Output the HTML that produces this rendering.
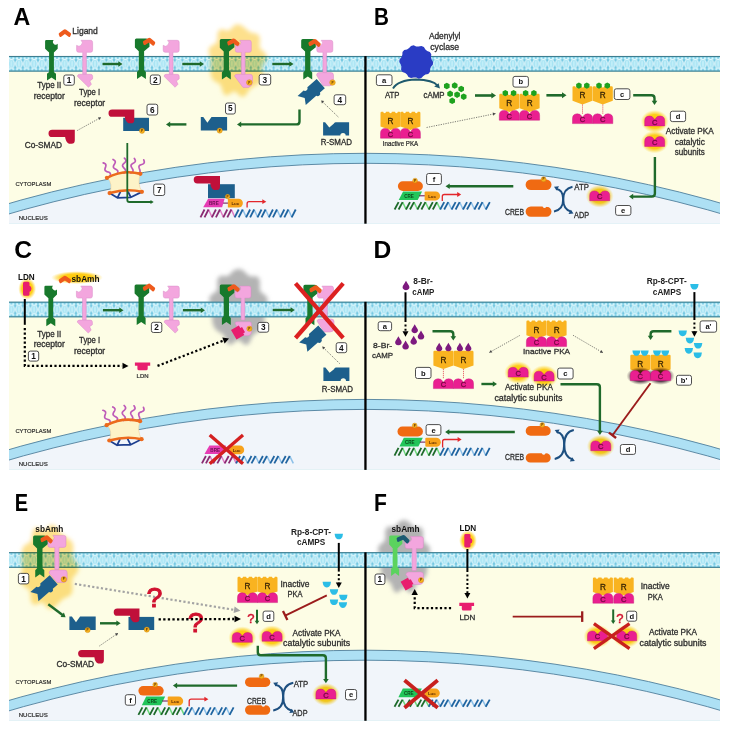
<!DOCTYPE html><html><head><meta charset="utf-8"><style>html,body{margin:0;padding:0;background:#fff;}svg{display:block;will-change:transform;}</style></head><body>
<svg width="730" height="730" viewBox="0 0 730 730" font-family='"Liberation Sans", sans-serif'>
<defs>
<g id="memtile"><rect width="7.6" height="15.4" fill="#74c8e2"/><circle cx="1.9" cy="2.4" r="1.3" fill="#d6f7fd"/><circle cx="5.7" cy="2.4" r="1.3" fill="#d6f7fd"/><circle cx="1.9" cy="13.0" r="1.3" fill="#d6f7fd"/><circle cx="5.7" cy="13.0" r="1.3" fill="#d6f7fd"/><ellipse cx="3.8" cy="7.7" rx="3.1" ry="4.3" fill="#a6e3f3" stroke="#effcff" stroke-width="0.95"/><line x1="3.8" y1="5.0" x2="3.8" y2="10.4" stroke="#e6fbff" stroke-width="0.8"/></g>
<radialGradient id="gy"><stop offset="0" stop-color="#ffc800" stop-opacity="1"/><stop offset="0.6" stop-color="#ffcc10" stop-opacity="0.95"/><stop offset="0.8" stop-color="#ffd84a" stop-opacity="0.6"/><stop offset="1" stop-color="#ffe680" stop-opacity="0"/></radialGradient>
<radialGradient id="gA"><stop offset="0" stop-color="#fcd66c" stop-opacity="0.9"/><stop offset="0.72" stop-color="#fcd870" stop-opacity="0.85"/><stop offset="0.88" stop-color="#fde39a" stop-opacity="0.5"/><stop offset="1" stop-color="#fdeab0" stop-opacity="0"/></radialGradient>
<radialGradient id="gg"><stop offset="0" stop-color="#9c9c9c" stop-opacity="0.95"/><stop offset="0.7" stop-color="#a8a8a8" stop-opacity="0.8"/><stop offset="1" stop-color="#c8c8c8" stop-opacity="0"/></radialGradient>
<radialGradient id="gd"><stop offset="0" stop-color="#2a1026" stop-opacity="1"/><stop offset="0.6" stop-color="#3a1a36" stop-opacity="0.85"/><stop offset="1" stop-color="#6a5a66" stop-opacity="0"/></radialGradient>
<filter id="blur2_2" x="-30%" y="-30%" width="160%" height="160%"><feGaussianBlur stdDeviation="2.2"/></filter>
<filter id="blur2_4" x="-30%" y="-30%" width="160%" height="160%"><feGaussianBlur stdDeviation="2.4"/></filter>
<filter id="blur1_5" x="-30%" y="-30%" width="160%" height="160%"><feGaussianBlur stdDeviation="1.5"/></filter>
</defs>
<rect width="730" height="730" fill="#fff"/>
<clipPath id="rc1"><rect x="9.0" y="56.1" width="711.0" height="167.3"/></clipPath>
<rect x="9.0" y="56.1" width="711.0" height="167.3" fill="#fdfde5"/>
<g clip-path="url(#rc1)">
<circle cx="365.4" cy="1445.3" r="1292.0" fill="#ade0f4" stroke="#4f7f9c" stroke-width="0.9"/>
<circle cx="365.4" cy="1445.3" r="1282.0" fill="#f1f5fa" stroke="#4f7f9c" stroke-width="0.9"/>
</g>
<pattern id="mem1" patternUnits="userSpaceOnUse" x="0" y="56.1" width="7.6" height="15.4"><use href="#memtile"/></pattern>
<rect x="9.0" y="56.1" width="711.0" height="15.4" fill="url(#mem1)"/>
<line x1="9.0" y1="56.45" x2="720.0" y2="56.45" stroke="#2e6a7c" stroke-width="0.85"/>
<line x1="9.0" y1="71.15" x2="720.0" y2="71.15" stroke="#2e6a7c" stroke-width="0.85"/>
<clipPath id="rc2"><rect x="9.0" y="301.8" width="711.0" height="167.8"/></clipPath>
<rect x="9.0" y="301.8" width="711.0" height="167.8" fill="#fdfde5"/>
<g clip-path="url(#rc2)">
<circle cx="365.4" cy="1691.4" r="1292.0" fill="#ade0f4" stroke="#4f7f9c" stroke-width="0.9"/>
<circle cx="365.4" cy="1691.4" r="1282.0" fill="#f1f5fa" stroke="#4f7f9c" stroke-width="0.9"/>
</g>
<path d="M265.3,307.0 L264.1,310.0 L263.9,313.0 L264.3,316.2 L264.6,319.6 L264.2,323.0 L263.2,326.0 L261.7,328.7 L259.8,330.8 L257.5,332.3 L255.2,333.5 L253.2,335.0 L251.7,337.6 L250.3,341.0 L248.6,344.0 L246.1,345.1 L243.3,343.8 L240.7,341.3 L238.4,339.9 L236.2,340.8 L233.6,343.1 L230.8,344.8 L228.2,344.3 L226.3,341.5 L225.0,337.9 L223.6,335.0 L221.8,333.3 L219.4,332.2 L217.1,330.7 L215.1,328.7 L213.6,326.0 L212.6,323.0 L212.2,319.7 L212.3,316.3 L212.7,313.0 L212.7,310.0 L211.8,307.0 L210.2,303.7 L209.2,300.2 L209.7,296.8 L212.0,294.2 L214.9,292.4 L216.9,290.5 L217.5,287.5 L217.2,283.4 L217.5,279.3 L219.2,276.6 L221.9,275.8 L225.0,276.1 L227.5,276.0 L229.6,274.7 L231.5,272.6 L233.6,270.6 L235.9,269.4 L238.4,269.0 L240.9,269.3 L243.2,270.5 L245.4,272.4 L247.3,274.5 L249.3,276.0 L251.7,276.4 L254.6,276.3 L257.5,276.8 L259.4,279.1 L259.9,283.0 L259.7,287.2 L259.9,290.5 L261.6,292.7 L264.4,294.5 L266.9,296.9 L267.8,300.1 L267.0,303.7 Z" fill="#b3b3b3" opacity="1.0" filter="url(#blur2_2)"/>
<pattern id="mem2" patternUnits="userSpaceOnUse" x="0" y="301.8" width="7.6" height="15.4"><use href="#memtile"/></pattern>
<rect x="9.0" y="301.8" width="711.0" height="15.4" fill="url(#mem2)"/>
<line x1="9.0" y1="302.15" x2="720.0" y2="302.15" stroke="#2e6a7c" stroke-width="0.85"/>
<line x1="9.0" y1="316.85" x2="720.0" y2="316.85" stroke="#2e6a7c" stroke-width="0.85"/>
<clipPath id="rc3"><rect x="9.0" y="552.3" width="711.0" height="168.20000000000005"/></clipPath>
<rect x="9.0" y="552.3" width="711.0" height="168.20000000000005" fill="#fdfde5"/>
<g clip-path="url(#rc3)">
<circle cx="365.4" cy="1942.2" r="1292.0" fill="#ade0f4" stroke="#4f7f9c" stroke-width="0.9"/>
<circle cx="365.4" cy="1942.2" r="1282.0" fill="#f1f5fa" stroke="#4f7f9c" stroke-width="0.9"/>
</g>
<path d="M428.0,556.5 L426.9,559.4 L426.7,562.2 L427.0,565.3 L427.3,568.6 L427.0,571.8 L426.1,574.7 L424.8,577.3 L423.1,579.4 L421.0,580.8 L418.9,581.9 L417.2,583.4 L415.8,585.8 L414.6,589.1 L413.0,592.0 L410.9,593.1 L408.4,591.8 L406.0,589.5 L404.0,588.1 L402.0,588.9 L399.7,591.1 L397.2,592.8 L394.9,592.3 L393.2,589.6 L392.0,586.2 L390.8,583.4 L389.2,581.7 L387.1,580.6 L385.0,579.3 L383.2,577.3 L381.9,574.7 L381.0,571.8 L380.6,568.7 L380.7,565.4 L381.1,562.3 L381.1,559.4 L380.3,556.5 L378.9,553.4 L378.0,549.9 L378.4,546.7 L380.4,544.2 L383.0,542.5 L384.8,540.7 L385.4,537.9 L385.2,533.9 L385.4,530.0 L386.9,527.3 L389.3,526.6 L392.0,526.8 L394.3,526.8 L396.1,525.6 L397.8,523.6 L399.7,521.6 L401.8,520.4 L404.0,520.0 L406.2,520.4 L408.3,521.5 L410.2,523.3 L411.9,525.3 L413.7,526.8 L415.8,527.2 L418.4,527.1 L421.0,527.6 L422.7,529.7 L423.2,533.5 L423.0,537.5 L423.2,540.7 L424.6,542.8 L427.1,544.5 L429.4,546.8 L430.2,549.9 L429.5,553.3 Z" fill="#b3b3b3" opacity="1.0" filter="url(#blur2_2)"/>
<pattern id="mem3" patternUnits="userSpaceOnUse" x="0" y="552.3" width="7.6" height="15.4"><use href="#memtile"/></pattern>
<rect x="9.0" y="552.3" width="711.0" height="15.4" fill="url(#mem3)"/>
<line x1="9.0" y1="552.65" x2="720.0" y2="552.65" stroke="#2e6a7c" stroke-width="0.85"/>
<line x1="9.0" y1="567.35" x2="720.0" y2="567.35" stroke="#2e6a7c" stroke-width="0.85"/>
<text x="13.6" y="24.8" font-size="24" text-anchor="start" font-weight="bold" fill="#000" textLength="16.79" lengthAdjust="spacingAndGlyphs">A</text>
<g transform="translate(45.1,40.1)">
<path d="M1.2,0 H8.6 A2.5,2.5 0 0 0 12.6,3.6 V8.6 L8.8,12.4 V32 L10.9,33.6 V40.5 L6.4,37.4 L1.9,40.5 V33.6 L4.0,32 V12.4 L0,8.6 V1.2 Q0,0 1.2,0 Z" fill="#18792c"/>
</g>
<g transform="translate(58.4,29.2)">
<path d="M0.4,5.2 Q0,4.4 0.8,3.7 L5.2,0.6 Q6.5,-0.3 7.8,0.6 L12.2,3.7 Q13,4.4 12.6,5.4 L11.8,7.2 Q11.2,8.1 10.2,7.5 L6.5,4.9 L2.8,7.5 Q1.8,8.1 1.2,7.2 Z" fill="#ee5a1c"/>
</g>
<text x="72.3" y="34.3" font-size="9" text-anchor="start" fill="#2e2e2e" textLength="25.5" lengthAdjust="spacingAndGlyphs" stroke="#2e2e2e" stroke-width="0.32">Ligand</text>
<g transform="translate(76.6,40.3)">
<path d="M4.4,0 H14 Q16,0 16,2 V10 Q16,12 14,12 H9.8 V34 H6.1 V12 H2 Q0,12 0,10 V5 A3.3,3.3 0 0 0 4.4,0 Z" fill="#f3a6de" stroke="#d98ac6" stroke-width="0.5"/>
<path d="M0.8,36 Q1,34 3,34 H14 Q16,34 16,36 V38.6 L13.2,40.6 L14.8,43.9 L11.9,47 Z" fill="#f3a6de" stroke="#d98ac6" stroke-width="0.5"/>
</g>
<rect x="63.8" y="75.0" width="10.5" height="10.2" rx="2" fill="#fff" stroke="#3a3a3a" stroke-width="0.9"/>
<text x="69.0" y="83.0" font-size="8.3" text-anchor="middle" font-weight="bold" fill="#111">1</text>
<text x="49.3" y="88.4" font-size="8.5" text-anchor="middle" fill="#2e2e2e" textLength="24" lengthAdjust="spacingAndGlyphs" stroke="#2e2e2e" stroke-width="0.30">Type II</text>
<text x="49.3" y="99.0" font-size="8.5" text-anchor="middle" fill="#2e2e2e" textLength="31.2" lengthAdjust="spacingAndGlyphs" stroke="#2e2e2e" stroke-width="0.30">receptor</text>
<text x="89.6" y="95.3" font-size="8.5" text-anchor="middle" fill="#2e2e2e" textLength="21" lengthAdjust="spacingAndGlyphs" stroke="#2e2e2e" stroke-width="0.30">Type I</text>
<text x="89.6" y="106.0" font-size="8.5" text-anchor="middle" fill="#2e2e2e" textLength="31.2" lengthAdjust="spacingAndGlyphs" stroke="#2e2e2e" stroke-width="0.30">receptor</text>
<path d="M102.5,64.0 L119.1,64.0" fill="none" stroke="#1f6a2b" stroke-width="2.4" stroke-linejoin="round"/>
<path d="M122.5,64.0 L118.3,66.8 L118.3,61.2 Z" fill="#1f6a2b"/>
<g transform="translate(134.9,38.6)">
<path d="M1.5,0 H11 Q14.6,0.3 14.6,4 V8.2 L9.2,12.6 V31.5 L11,33.4 V40.5 L6.6,37.4 L2.1,40.5 V33.4 L3.9,31.5 V12.6 L0,8.8 V1.5 Q0,0 1.5,0 Z" fill="#18792c"/>
</g>
<g transform="translate(142.9,37.2) rotate(4)">
<path d="M0.4,5.2 Q0,4.4 0.8,3.7 L5.2,0.6 Q6.5,-0.3 7.8,0.6 L12.2,3.7 Q13,4.4 12.6,5.4 L11.8,7.2 Q11.2,8.1 10.2,7.5 L6.5,4.9 L2.8,7.5 Q1.8,8.1 1.2,7.2 Z" fill="#ee5a1c"/>
</g>
<g transform="translate(163.2,40.3)">
<path d="M4.4,0 H14 Q16,0 16,2 V10 Q16,12 14,12 H9.8 V34 H6.1 V12 H2 Q0,12 0,10 V5 A3.3,3.3 0 0 0 4.4,0 Z" fill="#f3a6de" stroke="#d98ac6" stroke-width="0.5"/>
<path d="M0.8,36 Q1,34 3,34 H14 Q16,34 16,36 V38.6 L13.2,40.6 L14.8,43.9 L11.9,47 Z" fill="#f3a6de" stroke="#d98ac6" stroke-width="0.5"/>
</g>
<rect x="150.3" y="75.0" width="10.0" height="9.5" rx="2" fill="#fff" stroke="#3a3a3a" stroke-width="0.9"/>
<text x="155.3" y="82.7" font-size="8.3" text-anchor="middle" font-weight="bold" fill="#111">2</text>
<path d="M182.3,64.0 L200.6,64.0" fill="none" stroke="#1f6a2b" stroke-width="2.4" stroke-linejoin="round"/>
<path d="M204.0,64.0 L199.8,66.8 L199.8,61.2 Z" fill="#1f6a2b"/>
<path d="M265.7,60.5 L263.6,63.4 L262.1,66.0 L261.8,68.8 L262.3,72.1 L262.6,75.5 L262.0,78.6 L260.5,81.2 L258.6,83.2 L256.4,84.9 L254.2,86.2 L252.0,87.4 L250.1,88.9 L248.4,91.1 L246.7,93.9 L244.6,96.3 L242.1,96.9 L239.4,95.5 L237.0,93.1 L234.8,91.6 L232.6,92.1 L229.8,94.1 L226.9,95.4 L224.3,94.7 L222.7,91.7 L221.7,87.9 L220.6,85.0 L218.8,83.3 L216.4,82.2 L213.9,80.8 L212.0,78.6 L211.0,75.7 L210.5,72.6 L210.5,69.4 L210.6,66.3 L210.9,63.4 L210.9,60.5 L210.2,57.6 L209.1,54.3 L208.5,50.9 L209.3,47.8 L211.6,45.7 L214.5,44.2 L216.6,42.6 L217.4,39.9 L217.4,35.9 L217.9,32.0 L219.8,29.6 L222.7,29.3 L225.7,30.2 L228.3,30.5 L230.4,29.4 L232.3,27.2 L234.5,25.2 L237.0,24.3 L239.5,24.6 L241.9,25.7 L244.1,27.2 L246.2,28.9 L248.1,30.7 L250.1,32.1 L252.4,32.9 L255.2,33.3 L257.9,34.3 L259.6,36.7 L259.9,40.3 L259.5,44.2 L259.5,47.3 L261.1,49.5 L263.8,51.5 L266.2,54.0 L266.9,57.2 Z" fill="#fde08c" opacity="1.0" filter="url(#blur2_2)" style="mix-blend-mode:multiply"/>
<g transform="translate(219.8,39.0)">
<path d="M1.5,0 H11 Q14.6,0.3 14.6,4 V8.2 L9.2,12.6 V31.5 L11,33.4 V40.5 L6.6,37.4 L2.1,40.5 V33.4 L3.9,31.5 V12.6 L0,8.8 V1.5 Q0,0 1.5,0 Z" fill="#18792c"/>
</g>
<g transform="translate(227.4,37.6) rotate(6)">
<path d="M0.4,5.2 Q0,4.4 0.8,3.7 L5.2,0.6 Q6.5,-0.3 7.8,0.6 L12.2,3.7 Q13,4.4 12.6,5.4 L11.8,7.2 Q11.2,8.1 10.2,7.5 L6.5,4.9 L2.8,7.5 Q1.8,8.1 1.2,7.2 Z" fill="#ee5a1c"/>
</g>
<g transform="translate(235.3,40.3)">
<path d="M4.4,0 H14 Q16,0 16,2 V10 Q16,12 14,12 H9.8 V34 H6.1 V12 H2 Q0,12 0,10 V5 A3.3,3.3 0 0 0 4.4,0 Z" fill="#f3a6de" stroke="#d98ac6" stroke-width="0.5"/>
</g>
<path d="M234.5,76 Q235,74.3 237,74.3 H250 Q252.5,74.3 252.5,76.5 V82 Q252.5,86 248.5,87.4 L243,87.4 Z" fill="#f3a6de" stroke="#d98ac6" stroke-width="0.5"/>
<circle cx="249.3" cy="82.5" r="2.8" fill="#f5b01e" stroke="#c98310" stroke-width="0.4"/>
<text x="249.3" y="83.6" font-size="3.2" text-anchor="middle" font-weight="bold" fill="#5a3000">P</text>
<rect x="259.2" y="74.3" width="11.5" height="10.7" rx="2" fill="#fff" stroke="#3a3a3a" stroke-width="0.9"/>
<text x="264.9" y="82.6" font-size="8.3" text-anchor="middle" font-weight="bold" fill="#111">3</text>
<path d="M272.3,64.0 L290.1,64.0" fill="none" stroke="#1f6a2b" stroke-width="2.4" stroke-linejoin="round"/>
<path d="M293.5,64.0 L289.3,66.8 L289.3,61.2 Z" fill="#1f6a2b"/>
<g transform="translate(301.2,39.0)">
<path d="M1.5,0 H11 Q14.6,0.3 14.6,4 V8.2 L9.2,12.6 V31.5 L11,33.4 V40.5 L6.6,37.4 L2.1,40.5 V33.4 L3.9,31.5 V12.6 L0,8.8 V1.5 Q0,0 1.5,0 Z" fill="#18792c"/>
</g>
<g transform="translate(316.8,40.3)">
<path d="M4.4,0 H14 Q16,0 16,2 V10 Q16,12 14,12 H9.8 V34 H6.1 V12 H2 Q0,12 0,10 V5 A3.3,3.3 0 0 0 4.4,0 Z" fill="#f3a6de" stroke="#d98ac6" stroke-width="0.5"/>
</g>
<path d="M316.5,75 Q317,72.6 319,72.6 H331 Q333.5,72.6 333.5,75 V82 Q333.5,85.8 329.5,85.8 H323 Z" fill="#f3a6de" stroke="#d98ac6" stroke-width="0.5"/>
<g transform="translate(308.6,38.2) rotate(6)">
<path d="M0.4,5.2 Q0,4.4 0.8,3.7 L5.2,0.6 Q6.5,-0.3 7.8,0.6 L12.2,3.7 Q13,4.4 12.6,5.4 L11.8,7.2 Q11.2,8.1 10.2,7.5 L6.5,4.9 L2.8,7.5 Q1.8,8.1 1.2,7.2 Z" fill="#ee5a1c"/>
</g>
<g transform="translate(297.6,95.9) rotate(-41.5)">
<path d="M0,0 H8 A2.6,2.6 0 0 0 13,0 H25.5 V12.3 H19 A2.6,2.6 0 0 1 14,12.3 H0 L4,6.2 Z" fill="#1d5f8c"/>
</g>
<circle cx="332.5" cy="82.5" r="2.8" fill="#f5b01e" stroke="#c98310" stroke-width="0.4"/>
<text x="332.5" y="83.6" font-size="3.2" text-anchor="middle" font-weight="bold" fill="#5a3000">P</text>
<rect x="334.1" y="94.8" width="11.6" height="9.9" rx="2" fill="#fff" stroke="#3a3a3a" stroke-width="0.9"/>
<text x="339.9" y="102.7" font-size="8.3" text-anchor="middle" font-weight="bold" fill="#111">4</text>
<path d="M338.3,117.0 L321.2,100.5" fill="none" stroke="#444" stroke-width="0.7" stroke-dasharray="1.2 1.2"/>
<path d="M321.2,100.5 L324.2,101.1 L321.9,103.4 Z" fill="#444"/>
<g transform="translate(323.1,122.2)">
<path d="M0,0 H2 L6.2,5.2 L10.6,1.6 Q11.2,0 12.5,0 H26 V13.4 H22.6 A2.7,2.7 0 0 0 17.2,13.4 H0 Z" fill="#1d5f8c"/>
</g>
<text x="336.3" y="144.6" font-size="8.5" text-anchor="middle" fill="#2e2e2e" textLength="31.2" lengthAdjust="spacingAndGlyphs" stroke="#2e2e2e" stroke-width="0.30">R-SMAD</text>
<path d="M299.5,109.6 L299.5,121.4 Q299.5,124.4 296.5,124.4 L240.4,124.4" fill="none" stroke="#1f6a2b" stroke-width="2.4" stroke-linejoin="round"/>
<path d="M237.0,124.4 L241.2,121.6 L241.2,127.2 Z" fill="#1f6a2b"/>
<g transform="translate(200.8,117.0)">
<path d="M0,0 H2.5 L6.6,5.8 L10.7,0 H26.3 V13.5 H0 Z" fill="#1d5f8c"/>
</g>
<circle cx="219.7" cy="130.6" r="2.6" fill="#f5b01e" stroke="#c98310" stroke-width="0.4"/>
<text x="219.7" y="131.7" font-size="3.2" text-anchor="middle" font-weight="bold" fill="#5a3000">P</text>
<rect x="225.5" y="103.0" width="9.8" height="11.0" rx="2" fill="#fff" stroke="#3a3a3a" stroke-width="0.9"/>
<text x="230.4" y="111.4" font-size="8.3" text-anchor="middle" font-weight="bold" fill="#111">5</text>
<path d="M186.4,124.4 L169.4,124.4" fill="none" stroke="#1f6a2b" stroke-width="2.4" stroke-linejoin="round"/>
<path d="M166.0,124.4 L170.2,121.6 L170.2,127.2 Z" fill="#1f6a2b"/>
<rect x="123.2" y="117.8" width="25.8" height="13.2" fill="#1d5f8c"/>
<g transform="translate(108.5,109.6) scale(0.98)">
<path d="M3.7,0 H26.3 V10.5 Q26.3,14 23,14 H20.5 Q17.2,12.5 16.6,7.4 H3.7 A3.7,3.7 0 0 1 3.7,0 Z" fill="#c0103a"/>
</g>
<circle cx="142.0" cy="130.8" r="2.6" fill="#f5b01e" stroke="#c98310" stroke-width="0.4"/>
<text x="142.0" y="131.9" font-size="3.2" text-anchor="middle" font-weight="bold" fill="#5a3000">P</text>
<rect x="147.0" y="104.2" width="10.7" height="10.8" rx="2" fill="#fff" stroke="#3a3a3a" stroke-width="0.9"/>
<text x="152.3" y="112.5" font-size="8.3" text-anchor="middle" font-weight="bold" fill="#111">6</text>
<g transform="translate(48.5,129.7)">
<path d="M3.7,0 H26.3 V10.5 Q26.3,14 23,14 H20.5 Q17.2,12.5 16.6,7.4 H3.7 A3.7,3.7 0 0 1 3.7,0 Z" fill="#c0103a"/>
</g>
<text x="43.4" y="147.5" font-size="8.5" text-anchor="middle" fill="#2e2e2e" textLength="37.4" lengthAdjust="spacingAndGlyphs" stroke="#2e2e2e" stroke-width="0.30">Co-SMAD</text>
<path d="M77.3,130.5 L101.0,117.4" fill="none" stroke="#444" stroke-width="0.7" stroke-dasharray="1.2 1.2"/>
<path d="M101.0,117.4 L99.5,120.0 L98.0,117.2 Z" fill="#444"/>
<g transform="translate(106.4,176.3)">
<path d="M1,1.5 Q17,-7 34,-2.5 Q30.5,6.5 35.5,15.5 Q20,12 3.2,16.8 Q7,8 1,1.5 Z" fill="#fdf3c8" stroke="#f0c890" stroke-width="0.5"/>
<path d="M3.50,0.00 L3.72,-0.67 L3.89,-1.32 L3.99,-1.92 L3.97,-2.47 L3.81,-2.95 L3.52,-3.36 L3.09,-3.71 L2.55,-4.00 L1.93,-4.25 L1.26,-4.47 L0.60,-4.70 L-0.02,-4.95 L-0.56,-5.23 L-0.99,-5.58 L-1.29,-5.99 L-1.44,-6.47 L-1.46,-7.02 L-1.37,-7.63 L-1.19,-8.28 L-0.97,-8.94 L-0.75,-9.61 L-0.58,-10.26 L-0.49,-10.86 L-0.51,-11.41 L-0.66,-11.90 L-0.95,-12.31 L-1.38,-12.65 L-1.92,-12.94 L-2.54,-13.19 L-3.21,-13.42" fill="none" stroke="#be5ab8" stroke-width="1.7" stroke-linecap="round" stroke-linejoin="round"/>
<path d="M10.50,-2.30 L10.85,-2.91 L11.15,-3.51 L11.36,-4.08 L11.45,-4.62 L11.40,-5.13 L11.20,-5.59 L10.85,-6.02 L10.38,-6.41 L9.82,-6.78 L9.21,-7.13 L8.61,-7.49 L8.05,-7.86 L7.57,-8.25 L7.23,-8.67 L7.02,-9.13 L6.97,-9.64 L7.06,-10.18 L7.27,-10.75 L7.57,-11.35 L7.92,-11.96 L8.27,-12.57 L8.57,-13.17 L8.79,-13.75 L8.88,-14.29 L8.83,-14.79 L8.62,-15.25 L8.27,-15.68 L7.80,-16.07 L7.24,-16.44 L6.64,-16.79" fill="none" stroke="#be5ab8" stroke-width="1.7" stroke-linecap="round" stroke-linejoin="round"/>
<path d="M17.50,-3.20 L18.01,-3.68 L18.47,-4.17 L18.84,-4.66 L19.09,-5.15 L19.18,-5.65 L19.12,-6.15 L18.91,-6.65 L18.57,-7.17 L18.14,-7.68 L17.67,-8.20 L17.19,-8.71 L16.76,-9.23 L16.42,-9.74 L16.21,-10.25 L16.15,-10.75 L16.25,-11.25 L16.49,-11.74 L16.86,-12.23 L17.32,-12.71 L17.83,-13.19 L18.34,-13.68 L18.81,-14.16 L19.18,-14.65 L19.42,-15.14 L19.52,-15.64 L19.45,-16.14 L19.24,-16.65 L18.91,-17.16 L18.48,-17.68 L18.00,-18.19" fill="none" stroke="#be5ab8" stroke-width="1.7" stroke-linecap="round" stroke-linejoin="round"/>
<path d="M24.50,-3.30 L25.10,-3.67 L25.64,-4.06 L26.10,-4.47 L26.44,-4.90 L26.63,-5.37 L26.66,-5.88 L26.56,-6.41 L26.32,-6.98 L26.00,-7.57 L25.64,-8.17 L25.27,-8.77 L24.95,-9.36 L24.72,-9.92 L24.61,-10.46 L24.65,-10.97 L24.84,-11.44 L25.17,-11.87 L25.63,-12.28 L26.18,-12.66 L26.77,-13.04 L27.37,-13.41 L27.92,-13.80 L28.37,-14.21 L28.71,-14.64 L28.90,-15.11 L28.94,-15.61 L28.83,-16.15 L28.60,-16.72 L28.28,-17.31 L27.91,-17.91" fill="none" stroke="#be5ab8" stroke-width="1.7" stroke-linecap="round" stroke-linejoin="round"/>
<path d="M31.00,-2.80 L31.66,-3.04 L32.28,-3.31 L32.81,-3.61 L33.22,-3.97 L33.51,-4.39 L33.65,-4.88 L33.65,-5.42 L33.54,-6.03 L33.35,-6.67 L33.11,-7.33 L32.88,-7.99 L32.69,-8.63 L32.58,-9.24 L32.58,-9.79 L32.72,-10.27 L33.00,-10.69 L33.42,-11.05 L33.95,-11.35 L34.57,-11.62 L35.23,-11.86 L35.89,-12.11 L36.50,-12.37 L37.04,-12.67 L37.45,-13.03 L37.74,-13.45 L37.88,-13.94 L37.88,-14.49 L37.77,-15.09 L37.58,-15.73 L37.34,-16.39" fill="none" stroke="#be5ab8" stroke-width="1.7" stroke-linecap="round" stroke-linejoin="round"/>
<path d="M0.5,1.5 Q17,-7 34,-2.5" fill="none" stroke="#ec6a1c" stroke-width="2.6" stroke-linecap="round"/>
<circle cx="0.5" cy="1.5" r="2.1" fill="#ec6a1c"/><circle cx="34" cy="-2.5" r="2.1" fill="#ec6a1c"/>
<path d="M3.5,17 L11,21.5 L14,15.5 M21.5,15.2 L24.5,21 L35,15.8 M11,21.5 L24.5,21" fill="none" stroke="#1d3f8f" stroke-width="1.8" stroke-linejoin="round"/>
<path d="M3.2,16.8 Q20,12 35.5,15.5" fill="none" stroke="#ec6a1c" stroke-width="2.6" stroke-linecap="round"/>
<circle cx="3.2" cy="16.8" r="2.1" fill="#ec6a1c"/><circle cx="35.5" cy="15.5" r="2.1" fill="#ec6a1c"/>
</g>
<path d="M127.3,143.0 L127.3,200.0 Q127.3,202.0 129.3,202.0 L151.2,202.0" fill="none" stroke="#1f6a2b" stroke-width="1.8" stroke-linejoin="round"/>
<path d="M153.7,202.0 L150.5,204.1 L150.5,199.9 Z" fill="#1f6a2b"/>
<rect x="153.7" y="184.1" width="11.0" height="11.4" rx="2" fill="#fff" stroke="#3a3a3a" stroke-width="0.9"/>
<text x="159.2" y="192.7" font-size="8.3" text-anchor="middle" font-weight="bold" fill="#111">7</text>
<rect x="208.0" y="184.2" width="26.8" height="14" fill="#1d5f8c"/>
<g transform="translate(193.7,176.0)">
<path d="M3.7,0 H26.3 V10.5 Q26.3,14 23,14 H20.5 Q17.2,12.5 16.6,7.4 H3.7 A3.7,3.7 0 0 1 3.7,0 Z" fill="#c0103a"/>
</g>
<line x1="208.5" y1="209.5" x2="212.1" y2="217.3" stroke="#e07ac4" stroke-width="1.5"/>
<line x1="200.5" y1="217.3" x2="204.5" y2="209.5" stroke="#8a2a72" stroke-width="1.8"/>
<line x1="204.5" y1="217.3" x2="208.5" y2="209.5" stroke="#8a2a72" stroke-width="1.8"/>
<line x1="219.9" y1="209.5" x2="223.5" y2="217.3" stroke="#e07ac4" stroke-width="1.5"/>
<line x1="211.9" y1="217.3" x2="215.9" y2="209.5" stroke="#8a2a72" stroke-width="1.8"/>
<line x1="215.9" y1="217.3" x2="219.9" y2="209.5" stroke="#8a2a72" stroke-width="1.8"/>
<line x1="231.3" y1="209.5" x2="234.9" y2="217.3" stroke="#e07ac4" stroke-width="1.5"/>
<line x1="223.3" y1="217.3" x2="227.3" y2="209.5" stroke="#8a2a72" stroke-width="1.8"/>
<line x1="227.3" y1="217.3" x2="231.3" y2="209.5" stroke="#8a2a72" stroke-width="1.8"/>
<line x1="242.7" y1="209.5" x2="246.3" y2="217.3" stroke="#8cc0e8" stroke-width="1.5"/>
<line x1="234.7" y1="217.3" x2="238.7" y2="209.5" stroke="#1f64a0" stroke-width="1.8"/>
<line x1="238.7" y1="217.3" x2="242.7" y2="209.5" stroke="#1f64a0" stroke-width="1.8"/>
<line x1="254.1" y1="209.5" x2="257.7" y2="217.3" stroke="#8cc0e8" stroke-width="1.5"/>
<line x1="246.1" y1="217.3" x2="250.1" y2="209.5" stroke="#1f64a0" stroke-width="1.8"/>
<line x1="250.1" y1="217.3" x2="254.1" y2="209.5" stroke="#1f64a0" stroke-width="1.8"/>
<line x1="265.5" y1="209.5" x2="269.1" y2="217.3" stroke="#8cc0e8" stroke-width="1.5"/>
<line x1="257.5" y1="217.3" x2="261.5" y2="209.5" stroke="#1f64a0" stroke-width="1.8"/>
<line x1="261.5" y1="217.3" x2="265.5" y2="209.5" stroke="#1f64a0" stroke-width="1.8"/>
<line x1="276.9" y1="209.5" x2="280.5" y2="217.3" stroke="#8cc0e8" stroke-width="1.5"/>
<line x1="268.9" y1="217.3" x2="272.9" y2="209.5" stroke="#1f64a0" stroke-width="1.8"/>
<line x1="272.9" y1="217.3" x2="276.9" y2="209.5" stroke="#1f64a0" stroke-width="1.8"/>
<line x1="288.3" y1="209.5" x2="291.9" y2="217.3" stroke="#8cc0e8" stroke-width="1.5"/>
<line x1="280.3" y1="217.3" x2="284.3" y2="209.5" stroke="#1f64a0" stroke-width="1.8"/>
<line x1="284.3" y1="217.3" x2="288.3" y2="209.5" stroke="#1f64a0" stroke-width="1.8"/>
<line x1="291.7" y1="217.3" x2="295.7" y2="209.5" stroke="#1f64a0" stroke-width="1.8"/>
<path d="M208.1,198.7 H224.6 L222.1,207.3 H203.2 Z" fill="#e63cb4"/>
<text x="213.9" y="204.7" font-size="4.6" text-anchor="middle" font-weight="bold" fill="#6a1050">BRE</text>
<line x1="223.1" y1="203.1" x2="228.1" y2="203.1" stroke="#6a1050" stroke-width="1"/>
<path d="M227.9,198.7 H238.5 A4.4,4.4 0 0 1 238.5,207.5 H227.9 Z" fill="#f7a21b"/>
<text x="235.3" y="204.7" font-size="4.4" text-anchor="middle" font-weight="bold" fill="#5a2a00">Luc</text>
<circle cx="227.6" cy="196.6" r="2.3" fill="#f5b01e" stroke="#c98310" stroke-width="0.4"/>
<text x="227.6" y="197.7" font-size="3.2" text-anchor="middle" font-weight="bold" fill="#5a3000">P</text>
<path d="M247.1,207.5 V203.7 Q247.1,201.7 249.1,201.7 H263.3" fill="none" stroke="#e3262b" stroke-width="1.3"/>
<path d="M266.3,201.7 L262.3,199.3 L262.3,204.1 Z" fill="#e3262b"/>
<text x="33.4" y="186.4" font-size="6.0" text-anchor="middle" fill="#2a2a2a" textLength="36" lengthAdjust="spacingAndGlyphs" stroke="#2a2a2a" stroke-width="0.18">CYTOPLASM</text>
<text x="33.2" y="220.2" font-size="6.0" text-anchor="middle" fill="#2a2a2a" textLength="29" lengthAdjust="spacingAndGlyphs" stroke="#2a2a2a" stroke-width="0.18">NUCLEUS</text>
<text x="373.9" y="24.8" font-size="24" text-anchor="start" font-weight="bold" fill="#000" textLength="14.92" lengthAdjust="spacingAndGlyphs">B</text>
<path d="M393,88.5 Q398,80 416,79.5 Q433,80 437.5,85.5" fill="none" stroke="#1f5a6e" stroke-width="1.9"/>
<path d="M440,88.5 L434.2,86.6 L438.6,83.2 Z" fill="#1f5a6e"/>
<path d="M433.1,62.0 L432.9,64.6 L431.0,66.8 L430.1,69.1 L429.9,71.9 L428.2,74.0 L425.4,74.6 L423.3,75.9 L421.4,78.1 L418.8,78.7 L416.2,77.6 L413.8,77.4 L411.0,78.1 L408.5,77.1 L407.0,74.6 L405.2,73.0 L402.5,71.9 L401.1,69.7 L401.4,66.8 L400.8,64.4 L399.3,62.0 L399.5,59.4 L401.4,57.2 L402.3,54.9 L402.5,52.1 L404.2,50.0 L407.0,49.4 L409.1,48.1 L411.0,45.9 L413.6,45.3 L416.2,46.4 L418.6,46.6 L421.4,45.9 L423.9,46.9 L425.4,49.4 L427.2,51.0 L429.9,52.1 L431.3,54.3 L431.0,57.2 L431.6,59.6 Z" fill="#2a3cc4"/>
<text x="444.7" y="39.2" font-size="8.5" text-anchor="middle" fill="#2e2e2e" textLength="31.6" lengthAdjust="spacingAndGlyphs" stroke="#2e2e2e" stroke-width="0.30">Adenylyl</text>
<text x="444.7" y="50.4" font-size="8.5" text-anchor="middle" fill="#2e2e2e" textLength="29" lengthAdjust="spacingAndGlyphs" stroke="#2e2e2e" stroke-width="0.30">cyclase</text>
<rect x="376.4" y="74.8" width="15.6" height="10.7" rx="2" fill="#fff" stroke="#3a3a3a" stroke-width="0.9"/>
<text x="384.2" y="82.8" font-size="7.6" text-anchor="middle" font-weight="bold" fill="#111">a</text>
<text x="392.2" y="98.2" font-size="8.5" text-anchor="middle" fill="#2e2e2e" textLength="14.5" lengthAdjust="spacingAndGlyphs" stroke="#2e2e2e" stroke-width="0.30">ATP</text>
<text x="434.0" y="98.2" font-size="8.5" text-anchor="middle" fill="#2e2e2e" textLength="21" lengthAdjust="spacingAndGlyphs" stroke="#2e2e2e" stroke-width="0.30">cAMP</text>
<polygon points="449.62,87.63 446.80,89.25 443.98,87.63 443.98,84.37 446.80,82.75 449.62,84.37" fill="#1ea21e"/>
<polygon points="457.52,87.23 454.70,88.85 451.88,87.23 451.88,83.97 454.70,82.34 457.52,83.97" fill="#1ea21e"/>
<polygon points="464.02,90.53 461.20,92.16 458.38,90.53 458.38,87.27 461.20,85.65 464.02,87.27" fill="#1ea21e"/>
<polygon points="452.92,95.43 450.10,97.05 447.28,95.43 447.28,92.17 450.10,90.55 452.92,92.17" fill="#1ea21e"/>
<polygon points="459.92,96.33 457.10,97.95 454.28,96.33 454.28,93.07 457.10,91.45 459.92,93.07" fill="#1ea21e"/>
<polygon points="466.52,98.33 463.70,99.95 460.88,98.33 460.88,95.07 463.70,93.45 466.52,95.07" fill="#1ea21e"/>
<polygon points="455.02,102.43 452.20,104.05 449.38,102.43 449.38,99.17 452.20,97.55 455.02,99.17" fill="#1ea21e"/>
<path d="M475.0,95.5 L492.4,95.5" fill="none" stroke="#1f6a2b" stroke-width="2.6" stroke-linejoin="round"/>
<path d="M496.0,95.5 L491.4,98.5 L491.4,92.5 Z" fill="#1f6a2b"/>
<g transform="translate(380.5,111.8)">
<path d="M0,1.2 Q0,0 1.2,0 H2.7 A1.4,1.4 0 0 0 5.5,0 H8.6 A1.4,1.4 0 0 0 11.4,0 H14.5 A1.4,1.4 0 0 0 17.3,0 H18.8 Q20,0 20,1.2 V14.6 L10,18.2 L0,14.6 Z" fill="#f9b320"/>
<text x="10.0" y="12.2" font-size="8.2" text-anchor="middle" fill="#3a2605" stroke="#3a2605" stroke-width="0.29">R</text>
</g>
<g transform="translate(400.4,111.8)">
<path d="M0,1.2 Q0,0 1.2,0 H2.7 A1.4,1.4 0 0 0 5.5,0 H8.6 A1.4,1.4 0 0 0 11.4,0 H14.5 A1.4,1.4 0 0 0 17.3,0 H18.8 Q20,0 20,1.2 V14.6 L10,18.2 L0,14.6 Z" fill="#f9b320"/>
<text x="10.0" y="12.2" font-size="8.2" text-anchor="middle" fill="#3a2605" stroke="#3a2605" stroke-width="0.29">R</text>
</g>
<g transform="translate(380.5,128.2)">
<path d="M0,10 V5 Q0,0.4 4.6,0.2 Q7.8,0.1 9.0,2.4 L10,4.2 L11.0,2.4 Q12.2,0.1 15.4,0.2 Q20,0.4 20,5 V10 Z" fill="#ea1f90" stroke="#c8167a" stroke-width="0.45"/>
<text x="10.0" y="8.7" font-size="7.6" text-anchor="middle" fill="#74063f" stroke="#74063f" stroke-width="0.27">C</text>
</g>
<g transform="translate(400.4,128.2)">
<path d="M0,10 V5 Q0,0.4 4.6,0.2 Q7.8,0.1 9.0,2.4 L10,4.2 L11.0,2.4 Q12.2,0.1 15.4,0.2 Q20,0.4 20,5 V10 Z" fill="#ea1f90" stroke="#c8167a" stroke-width="0.45"/>
<text x="10.0" y="8.7" font-size="7.6" text-anchor="middle" fill="#74063f" stroke="#74063f" stroke-width="0.27">C</text>
</g>
<text x="400.5" y="145.9" font-size="6.4" text-anchor="middle" fill="#2e2e2e" textLength="35.3" lengthAdjust="spacingAndGlyphs" stroke="#2e2e2e" stroke-width="0.23">Inactive PKA</text>
<path d="M426.6,127.5 L495.5,113.6" fill="none" stroke="#444" stroke-width="0.7" stroke-dasharray="1.2 1.2"/>
<path d="M495.5,113.6 L493.3,115.7 L492.7,112.5 Z" fill="#444"/>
<rect x="513.0" y="76.4" width="15.4" height="10.7" rx="2" fill="#fff" stroke="#3a3a3a" stroke-width="0.9"/>
<text x="520.7" y="84.4" font-size="7.6" text-anchor="middle" font-weight="bold" fill="#111">b</text>
<g transform="translate(499.3,93.7)">
<path d="M0,1.2 Q0,0 1.2,0 H2.7 A1.4,1.4 0 0 0 5.5,0 H8.6 A1.4,1.4 0 0 0 11.4,0 H14.5 A1.4,1.4 0 0 0 17.3,0 H18.8 Q20,0 20,1.2 V14.6 L10,18.2 L0,14.6 Z" fill="#f9b320"/>
<text x="10.0" y="12.2" font-size="8.2" text-anchor="middle" fill="#3a2605" stroke="#3a2605" stroke-width="0.29">R</text>
</g>
<g transform="translate(519.6,93.7)">
<path d="M0,1.2 Q0,0 1.2,0 H2.7 A1.4,1.4 0 0 0 5.5,0 H8.6 A1.4,1.4 0 0 0 11.4,0 H14.5 A1.4,1.4 0 0 0 17.3,0 H18.8 Q20,0 20,1.2 V14.6 L10,18.2 L0,14.6 Z" fill="#f9b320"/>
<text x="10.0" y="12.2" font-size="8.2" text-anchor="middle" fill="#3a2605" stroke="#3a2605" stroke-width="0.29">R</text>
</g>
<g transform="translate(499.3,110.2)">
<path d="M0,10 V5 Q0,0.4 4.6,0.2 Q7.8,0.1 9.0,2.4 L10,4.2 L11.0,2.4 Q12.2,0.1 15.4,0.2 Q20,0.4 20,5 V10 Z" fill="#ea1f90" stroke="#c8167a" stroke-width="0.45"/>
<text x="10.0" y="8.7" font-size="7.6" text-anchor="middle" fill="#74063f" stroke="#74063f" stroke-width="0.27">C</text>
</g>
<g transform="translate(519.6,110.2)">
<path d="M0,10 V5 Q0,0.4 4.6,0.2 Q7.8,0.1 9.0,2.4 L10,4.2 L11.0,2.4 Q12.2,0.1 15.4,0.2 Q20,0.4 20,5 V10 Z" fill="#ea1f90" stroke="#c8167a" stroke-width="0.45"/>
<text x="10.0" y="8.7" font-size="7.6" text-anchor="middle" fill="#74063f" stroke="#74063f" stroke-width="0.27">C</text>
</g>
<polygon points="508.03,94.78 505.30,96.35 502.57,94.78 502.57,91.62 505.30,90.05 508.03,91.62" fill="#1ea21e"/>
<polygon points="516.33,94.78 513.60,96.35 510.87,94.78 510.87,91.62 513.60,90.05 516.33,91.62" fill="#1ea21e"/>
<polygon points="528.33,94.78 525.60,96.35 522.87,94.78 522.87,91.62 525.60,90.05 528.33,91.62" fill="#1ea21e"/>
<polygon points="536.63,94.78 533.90,96.35 531.17,94.78 531.17,91.62 533.90,90.05 536.63,91.62" fill="#1ea21e"/>
<path d="M546.4,95.3 L562.9,95.3" fill="none" stroke="#1f6a2b" stroke-width="2.6" stroke-linejoin="round"/>
<path d="M566.5,95.3 L562.0,98.3 L562.0,92.3 Z" fill="#1f6a2b"/>
<g transform="translate(572.5,86.2)">
<path d="M0,1.2 Q0,0 1.2,0 H2.7 A1.4,1.4 0 0 0 5.5,0 H8.6 A1.4,1.4 0 0 0 11.4,0 H14.5 A1.4,1.4 0 0 0 17.3,0 H18.8 Q20,0 20,1.2 V14.6 L10,18.2 L0,14.6 Z" fill="#f9b320"/>
<text x="10.0" y="12.2" font-size="8.2" text-anchor="middle" fill="#3a2605" stroke="#3a2605" stroke-width="0.29">R</text>
</g>
<g transform="translate(592.8,86.2)">
<path d="M0,1.2 Q0,0 1.2,0 H2.7 A1.4,1.4 0 0 0 5.5,0 H8.6 A1.4,1.4 0 0 0 11.4,0 H14.5 A1.4,1.4 0 0 0 17.3,0 H18.8 Q20,0 20,1.2 V14.6 L10,18.2 L0,14.6 Z" fill="#f9b320"/>
<text x="10.0" y="12.2" font-size="8.2" text-anchor="middle" fill="#3a2605" stroke="#3a2605" stroke-width="0.29">R</text>
</g>
<polygon points="581.63,87.17 578.90,88.75 576.17,87.17 576.17,84.02 578.90,82.45 581.63,84.02" fill="#1ea21e"/>
<polygon points="589.53,87.17 586.80,88.75 584.07,87.17 584.07,84.02 586.80,82.45 589.53,84.02" fill="#1ea21e"/>
<polygon points="601.73,87.17 599.00,88.75 596.27,87.17 596.27,84.02 599.00,82.45 601.73,84.02" fill="#1ea21e"/>
<polygon points="610.03,87.17 607.30,88.75 604.57,87.17 604.57,84.02 607.30,82.45 610.03,84.02" fill="#1ea21e"/>
<line x1="582.5" y1="104.6" x2="582.5" y2="113.6" stroke="#d23" stroke-width="0.8" stroke-dasharray="1 1"/>
<line x1="602.8" y1="104.6" x2="602.8" y2="113.6" stroke="#d23" stroke-width="0.8" stroke-dasharray="1 1"/>
<g transform="translate(572.5,113.6)">
<path d="M0,10 V5 Q0,0.4 4.6,0.2 Q7.8,0.1 9.0,2.4 L10,4.2 L11.0,2.4 Q12.2,0.1 15.4,0.2 Q20,0.4 20,5 V10 Z" fill="#ea1f90" stroke="#c8167a" stroke-width="0.45"/>
<text x="10.0" y="8.7" font-size="7.6" text-anchor="middle" fill="#74063f" stroke="#74063f" stroke-width="0.27">C</text>
</g>
<g transform="translate(592.8,113.6)">
<path d="M0,10 V5 Q0,0.4 4.6,0.2 Q7.8,0.1 9.0,2.4 L10,4.2 L11.0,2.4 Q12.2,0.1 15.4,0.2 Q20,0.4 20,5 V10 Z" fill="#ea1f90" stroke="#c8167a" stroke-width="0.45"/>
<text x="10.0" y="8.7" font-size="7.6" text-anchor="middle" fill="#74063f" stroke="#74063f" stroke-width="0.27">C</text>
</g>
<rect x="614.3" y="88.8" width="15.6" height="10.7" rx="2" fill="#fff" stroke="#3a3a3a" stroke-width="0.9"/>
<text x="622.1" y="96.8" font-size="7.6" text-anchor="middle" font-weight="bold" fill="#111">c</text>
<path d="M633.2,95.3 L651.5,95.3 Q654.5,95.3 654.5,98.3 L654.5,101.6" fill="none" stroke="#1f6a2b" stroke-width="2.4" stroke-linejoin="round"/>
<path d="M654.5,105.0 L651.7,100.8 L657.3,100.8 Z" fill="#1f6a2b"/>
<ellipse cx="654.7" cy="121.4" rx="14" ry="11.5" fill="url(#gy)" style="mix-blend-mode:multiply"/>
<g transform="translate(644.7,115.9)">
<path d="M0,10 V5 Q0,0.4 4.6,0.2 Q7.8,0.1 9.0,2.4 L10,4.2 L11.0,2.4 Q12.2,0.1 15.4,0.2 Q20,0.4 20,5 V10 Z" fill="#ea1f90" stroke="#c8167a" stroke-width="0.45"/>
<text x="10.0" y="8.7" font-size="7.6" text-anchor="middle" fill="#74063f" stroke="#74063f" stroke-width="0.27">C</text>
</g>
<ellipse cx="654.7" cy="141.9" rx="14" ry="11.5" fill="url(#gy)" style="mix-blend-mode:multiply"/>
<g transform="translate(644.7,136.4)">
<path d="M0,10 V5 Q0,0.4 4.6,0.2 Q7.8,0.1 9.0,2.4 L10,4.2 L11.0,2.4 Q12.2,0.1 15.4,0.2 Q20,0.4 20,5 V10 Z" fill="#ea1f90" stroke="#c8167a" stroke-width="0.45"/>
<text x="10.0" y="8.7" font-size="7.6" text-anchor="middle" fill="#74063f" stroke="#74063f" stroke-width="0.27">C</text>
</g>
<rect x="670.4" y="111.2" width="15.2" height="10.4" rx="2" fill="#fff" stroke="#3a3a3a" stroke-width="0.9"/>
<text x="678.0" y="119.1" font-size="7.6" text-anchor="middle" font-weight="bold" fill="#111">d</text>
<text x="689.8" y="134.1" font-size="8.2" text-anchor="middle" fill="#2e2e2e" textLength="48" lengthAdjust="spacingAndGlyphs" stroke="#2e2e2e" stroke-width="0.29">Activate PKA</text>
<text x="689.8" y="145.1" font-size="8.2" text-anchor="middle" fill="#2e2e2e" textLength="30" lengthAdjust="spacingAndGlyphs" stroke="#2e2e2e" stroke-width="0.29">catalytic</text>
<text x="689.8" y="155.2" font-size="8.2" text-anchor="middle" fill="#2e2e2e" textLength="30" lengthAdjust="spacingAndGlyphs" stroke="#2e2e2e" stroke-width="0.29">subunits</text>
<path d="M654.9,157.1 L654.9,193.6 Q654.9,196.6 651.9,196.6 L632.4,196.6" fill="none" stroke="#1f6a2b" stroke-width="2.4" stroke-linejoin="round"/>
<path d="M629.0,196.6 L633.2,193.8 L633.2,199.4 Z" fill="#1f6a2b"/>
<ellipse cx="599.7" cy="196.2" rx="14" ry="11.5" fill="url(#gy)" style="mix-blend-mode:multiply"/>
<g transform="translate(589.7,190.7)">
<path d="M0,10 V5 Q0,0.4 4.6,0.2 Q7.8,0.1 9.0,2.4 L10,4.2 L11.0,2.4 Q12.2,0.1 15.4,0.2 Q20,0.4 20,5 V10 Z" fill="#ea1f90" stroke="#c8167a" stroke-width="0.45"/>
<text x="10.0" y="8.7" font-size="7.6" text-anchor="middle" fill="#74063f" stroke="#74063f" stroke-width="0.27">C</text>
</g>
<rect x="615.6" y="205.5" width="15.3" height="9.8" rx="2" fill="#fff" stroke="#3a3a3a" stroke-width="0.9"/>
<text x="623.2" y="213.1" font-size="7.6" text-anchor="middle" font-weight="bold" fill="#111">e</text>
<rect x="525.6" y="179.6" width="25.9" height="10.4" rx="5.2" fill="#f06a12"/>
<circle cx="543.6" cy="179.3" r="2.5" fill="#f5b01e" stroke="#c98310" stroke-width="0.4"/>
<text x="543.6" y="180.4" font-size="3.2" text-anchor="middle" font-weight="bold" fill="#5a3000">P</text>
<path d="M530.8,206.4 H542.5 Q544.5,209.4 546.5,206.4 H546.3 A5.2,5.2 0 0 1 546.3,216.8 H530.8 A5.2,5.2 0 0 1 530.8,206.4 Z" fill="#f06a12"/>
<text x="514.5" y="214.6" font-size="8.5" text-anchor="middle" fill="#2e2e2e" textLength="19" lengthAdjust="spacingAndGlyphs" stroke="#2e2e2e" stroke-width="0.30">CREB</text>
<path d="M572.5,186.7 Q563.2,188.7 563.2,199.3 Q563.2,209.9 571.5,211.9" fill="none" stroke="#1d4f80" stroke-width="2"/>
<path d="M556.0,188.7 Q563.2,189.7 563.2,199.3 Q563.2,209.9 554.0,211.4" fill="none" stroke="#1d4f80" stroke-width="2"/>
<path d="M554.0,186.7 l5,-0.5 l-2.4,4.2 Z" fill="#1d4f80"/>
<path d="M573.5,213.4 l-5,0.5 l2.4,-4.2 Z" fill="#1d4f80"/>
<text x="581.6" y="189.5" font-size="8.5" text-anchor="middle" fill="#2e2e2e" textLength="14.5" lengthAdjust="spacingAndGlyphs" stroke="#2e2e2e" stroke-width="0.30">ATP</text>
<text x="581.6" y="217.6" font-size="8.5" text-anchor="middle" fill="#2e2e2e" textLength="15" lengthAdjust="spacingAndGlyphs" stroke="#2e2e2e" stroke-width="0.30">ADP</text>
<path d="M513.3,186.2 L448.9,186.2" fill="none" stroke="#1f6a2b" stroke-width="2.4" stroke-linejoin="round"/>
<path d="M445.5,186.2 L449.7,183.4 L449.7,189.0 Z" fill="#1f6a2b"/>
<rect x="426.6" y="173.5" width="14.8" height="11.0" rx="2" fill="#fff" stroke="#3a3a3a" stroke-width="0.9"/>
<text x="434.0" y="181.7" font-size="7.6" text-anchor="middle" font-weight="bold" fill="#111">f</text>
<rect x="397.9" y="181.2" width="25" height="9.8" rx="4.9" fill="#f06a12"/>
<circle cx="415.1" cy="180.6" r="2.4" fill="#f5b01e" stroke="#c98310" stroke-width="0.4"/>
<text x="415.1" y="181.7" font-size="3.2" text-anchor="middle" font-weight="bold" fill="#5a3000">P</text>
<line x1="402.6" y1="202.1" x2="406.2" y2="209.5" stroke="#6cd87a" stroke-width="1.5"/>
<line x1="394.6" y1="209.5" x2="398.6" y2="202.1" stroke="#1d6a2a" stroke-width="1.8"/>
<line x1="398.6" y1="209.5" x2="402.6" y2="202.1" stroke="#1d6a2a" stroke-width="1.8"/>
<line x1="414.0" y1="202.1" x2="417.6" y2="209.5" stroke="#6cd87a" stroke-width="1.5"/>
<line x1="406.0" y1="209.5" x2="410.0" y2="202.1" stroke="#1d6a2a" stroke-width="1.8"/>
<line x1="410.0" y1="209.5" x2="414.0" y2="202.1" stroke="#1d6a2a" stroke-width="1.8"/>
<line x1="425.4" y1="202.1" x2="429.0" y2="209.5" stroke="#6cd87a" stroke-width="1.5"/>
<line x1="417.4" y1="209.5" x2="421.4" y2="202.1" stroke="#1d6a2a" stroke-width="1.8"/>
<line x1="421.4" y1="209.5" x2="425.4" y2="202.1" stroke="#1d6a2a" stroke-width="1.8"/>
<line x1="436.8" y1="202.1" x2="440.4" y2="209.5" stroke="#6cd87a" stroke-width="1.5"/>
<line x1="428.8" y1="209.5" x2="432.8" y2="202.1" stroke="#1d6a2a" stroke-width="1.8"/>
<line x1="432.8" y1="209.5" x2="436.8" y2="202.1" stroke="#1d6a2a" stroke-width="1.8"/>
<line x1="448.2" y1="202.1" x2="451.8" y2="209.5" stroke="#8cc0e8" stroke-width="1.5"/>
<line x1="440.2" y1="209.5" x2="444.2" y2="202.1" stroke="#1f64a0" stroke-width="1.8"/>
<line x1="444.2" y1="209.5" x2="448.2" y2="202.1" stroke="#1f64a0" stroke-width="1.8"/>
<line x1="459.6" y1="202.1" x2="463.2" y2="209.5" stroke="#8cc0e8" stroke-width="1.5"/>
<line x1="451.6" y1="209.5" x2="455.6" y2="202.1" stroke="#1f64a0" stroke-width="1.8"/>
<line x1="455.6" y1="209.5" x2="459.6" y2="202.1" stroke="#1f64a0" stroke-width="1.8"/>
<line x1="471.0" y1="202.1" x2="474.6" y2="209.5" stroke="#8cc0e8" stroke-width="1.5"/>
<line x1="463.0" y1="209.5" x2="467.0" y2="202.1" stroke="#1f64a0" stroke-width="1.8"/>
<line x1="467.0" y1="209.5" x2="471.0" y2="202.1" stroke="#1f64a0" stroke-width="1.8"/>
<line x1="482.4" y1="202.1" x2="486.0" y2="209.5" stroke="#8cc0e8" stroke-width="1.5"/>
<line x1="474.4" y1="209.5" x2="478.4" y2="202.1" stroke="#1f64a0" stroke-width="1.8"/>
<line x1="478.4" y1="209.5" x2="482.4" y2="202.1" stroke="#1f64a0" stroke-width="1.8"/>
<line x1="485.8" y1="209.5" x2="489.8" y2="202.1" stroke="#1f64a0" stroke-width="1.8"/>
<path d="M403.1,191.4 H422.1 L417.7,200.1 H398.7 Z" fill="#22c55a"/>
<text x="409.1" y="197.6" font-size="4.6" text-anchor="middle" font-weight="bold" fill="#0c4a1c">CRE</text>
<line x1="419.1" y1="195.8" x2="425.1" y2="195.8" stroke="#6a1050" stroke-width="1"/>
<path d="M425.6,191.4 H435.6 A4.5,4.5 0 0 1 435.6,200.4 H425.6 A1,1 0 0 1 424.6,199.4 V192.4 A1,1 0 0 1 425.6,191.4 Z" fill="#f7a21b"/>
<text x="432.1" y="197.5" font-size="4.4" text-anchor="middle" font-weight="bold" fill="#5a2a00">Luc</text>
<path d="M442.3,201.0 V196.5 Q442.3,194.5 444.3,194.5 H458.2" fill="none" stroke="#e3262b" stroke-width="1.3"/>
<path d="M461.2,194.5 L457.2,192.1 L457.2,196.9 Z" fill="#e3262b"/>
<text x="14.3" y="258.2" font-size="24" text-anchor="start" font-weight="bold" fill="#000" textLength="17.78" lengthAdjust="spacingAndGlyphs">C</text>
<text x="26.3" y="280.2" font-size="8.2" text-anchor="middle" font-weight="bold" fill="#111" textLength="16.8" lengthAdjust="spacingAndGlyphs">LDN</text>
<ellipse cx="27.2" cy="288.8" rx="9" ry="11" fill="url(#gy)" style="mix-blend-mode:multiply"/>
<g transform="translate(23.0,281.8)">
<path d="M1.5,0 H5 Q6.5,0 6.5,1.5 V4 Q8.5,4.5 8.5,7 Q8.5,9.5 6.5,10 V12.5 Q6.5,14 5,14 H1.5 Q0,14 0,12.5 V1.5 Q0,0 1.5,0 Z" fill="#e81e6e"/>
</g>
<line x1="24.8" y1="299" x2="24.8" y2="324.8" stroke="#000" stroke-width="2"/>
<path d="M24.8,328.0 L24.8,365.9 L122.0,365.9" fill="none" stroke="#000" stroke-width="2.2" stroke-dasharray="2.2 2.3"/>
<path d="M128.5,365.9 L122.5,369.1 L122.5,362.7 Z" fill="#000"/>
<ellipse cx="77.0" cy="277.6" rx="26" ry="6.5" fill="url(#gy)" style="mix-blend-mode:multiply"/>
<g transform="translate(58.4,275.6)">
<path d="M0.4,5.2 Q0,4.4 0.8,3.7 L5.2,0.6 Q6.5,-0.3 7.8,0.6 L12.2,3.7 Q13,4.4 12.6,5.4 L11.8,7.2 Q11.2,8.1 10.2,7.5 L6.5,4.9 L2.8,7.5 Q1.8,8.1 1.2,7.2 Z" fill="#ee5a1c"/>
</g>
<text x="71.5" y="281.8" font-size="8.5" text-anchor="start" font-weight="bold" fill="#111" textLength="28" lengthAdjust="spacingAndGlyphs">sbAmh</text>
<g transform="translate(44.4,285.8)">
<path d="M1.2,0 H8.6 A2.5,2.5 0 0 0 12.6,3.6 V8.6 L8.8,12.4 V32 L10.9,33.6 V40.5 L6.4,37.4 L1.9,40.5 V33.6 L4.0,32 V12.4 L0,8.6 V1.2 Q0,0 1.2,0 Z" fill="#18792c"/>
</g>
<g transform="translate(76.4,286.1)">
<path d="M4.4,0 H14 Q16,0 16,2 V10 Q16,12 14,12 H9.8 V34 H6.1 V12 H2 Q0,12 0,10 V5 A3.3,3.3 0 0 0 4.4,0 Z" fill="#f3a6de" stroke="#d98ac6" stroke-width="0.5"/>
<path d="M0.8,36 Q1,34 3,34 H14 Q16,34 16,36 V38.6 L13.2,40.6 L14.8,43.9 L11.9,47 Z" fill="#f3a6de" stroke="#d98ac6" stroke-width="0.5"/>
</g>
<text x="49.3" y="336.6" font-size="8.5" text-anchor="middle" fill="#2e2e2e" textLength="24" lengthAdjust="spacingAndGlyphs" stroke="#2e2e2e" stroke-width="0.30">Type II</text>
<text x="49.3" y="346.9" font-size="8.5" text-anchor="middle" fill="#2e2e2e" textLength="31.2" lengthAdjust="spacingAndGlyphs" stroke="#2e2e2e" stroke-width="0.30">receptor</text>
<text x="89.6" y="343.1" font-size="8.5" text-anchor="middle" fill="#2e2e2e" textLength="21" lengthAdjust="spacingAndGlyphs" stroke="#2e2e2e" stroke-width="0.30">Type I</text>
<text x="89.6" y="353.6" font-size="8.5" text-anchor="middle" fill="#2e2e2e" textLength="31.2" lengthAdjust="spacingAndGlyphs" stroke="#2e2e2e" stroke-width="0.30">receptor</text>
<rect x="28.4" y="351.1" width="10.3" height="10.0" rx="2" fill="#fff" stroke="#3a3a3a" stroke-width="0.9"/>
<text x="33.5" y="359.0" font-size="8.3" text-anchor="middle" font-weight="bold" fill="#111">1</text>
<path d="M102.9,310.2 L120.1,310.2" fill="none" stroke="#1f6a2b" stroke-width="2.4" stroke-linejoin="round"/>
<path d="M123.5,310.2 L119.3,313.0 L119.3,307.4 Z" fill="#1f6a2b"/>
<g transform="translate(134.6,284.6)">
<path d="M1.5,0 H11 Q14.6,0.3 14.6,4 V8.2 L9.2,12.6 V31.5 L11,33.4 V40.5 L6.6,37.4 L2.1,40.5 V33.4 L3.9,31.5 V12.6 L0,8.8 V1.5 Q0,0 1.5,0 Z" fill="#18792c"/>
</g>
<g transform="translate(142.8,283.0) rotate(4)">
<path d="M0.4,5.2 Q0,4.4 0.8,3.7 L5.2,0.6 Q6.5,-0.3 7.8,0.6 L12.2,3.7 Q13,4.4 12.6,5.4 L11.8,7.2 Q11.2,8.1 10.2,7.5 L6.5,4.9 L2.8,7.5 Q1.8,8.1 1.2,7.2 Z" fill="#ee5a1c"/>
</g>
<g transform="translate(163.3,286.1)">
<path d="M4.4,0 H14 Q16,0 16,2 V10 Q16,12 14,12 H9.8 V34 H6.1 V12 H2 Q0,12 0,10 V5 A3.3,3.3 0 0 0 4.4,0 Z" fill="#f3a6de" stroke="#d98ac6" stroke-width="0.5"/>
<path d="M0.8,36 Q1,34 3,34 H14 Q16,34 16,36 V38.6 L13.2,40.6 L14.8,43.9 L11.9,47 Z" fill="#f3a6de" stroke="#d98ac6" stroke-width="0.5"/>
</g>
<rect x="151.4" y="322.3" width="10.4" height="10.2" rx="2" fill="#fff" stroke="#3a3a3a" stroke-width="0.9"/>
<text x="156.6" y="330.3" font-size="8.3" text-anchor="middle" font-weight="bold" fill="#111">2</text>
<path d="M182.9,310.2 L201.6,310.2" fill="none" stroke="#1f6a2b" stroke-width="2.4" stroke-linejoin="round"/>
<path d="M205.0,310.2 L200.8,313.0 L200.8,307.4 Z" fill="#1f6a2b"/>
<path d="M134.9,362.6 H150.2 V365.8 H147.7 V368.8 Q147.7,370.3 146.2,370.3 H138.9 Q137.4,370.3 137.4,368.8 V365.8 H134.9 Z" fill="#e81e6e"/>
<text x="142.6" y="377.7" font-size="6.2" text-anchor="middle" fill="#2e2e2e" textLength="12" lengthAdjust="spacingAndGlyphs" stroke="#2e2e2e" stroke-width="0.22">LDN</text>
<path d="M157.5,365.9 L223.5,340.5" fill="none" stroke="#000" stroke-width="2.2" stroke-dasharray="2.2 2.3"/>
<path d="M229.0,338.4 L224.6,343.5 L222.3,337.6 Z" fill="#000"/>
<g transform="translate(219.8,284.6)">
<path d="M1.5,0 H11 Q14.6,0.3 14.6,4 V8.2 L9.2,12.6 V31.5 L11,33.4 V40.5 L6.6,37.4 L2.1,40.5 V33.4 L3.9,31.5 V12.6 L0,8.8 V1.5 Q0,0 1.5,0 Z" fill="#18792c"/>
</g>
<g transform="translate(227.6,283.4) rotate(6)">
<path d="M0.4,5.2 Q0,4.4 0.8,3.7 L5.2,0.6 Q6.5,-0.3 7.8,0.6 L12.2,3.7 Q13,4.4 12.6,5.4 L11.8,7.2 Q11.2,8.1 10.2,7.5 L6.5,4.9 L2.8,7.5 Q1.8,8.1 1.2,7.2 Z" fill="#ee5a1c"/>
</g>
<g transform="translate(235.0,286.1)">
<path d="M4.4,0 H14 Q16,0 16,2 V10 Q16,12 14,12 H9.8 V34 H6.1 V12 H2 Q0,12 0,10 V5 A3.3,3.3 0 0 0 4.4,0 Z" fill="#f3a6de" stroke="#d98ac6" stroke-width="0.5"/>
</g>
<path d="M235,323 Q235.5,321.7 237.5,321.7 H249.5 Q251.5,321.7 251.5,324 V331 Q251.5,335.7 247,335.7 H241 Z" fill="#f3a6de" stroke="#d98ac6" stroke-width="0.5"/>
<g transform="translate(231.0,330.0) rotate(-30)">
<path d="M0,0 H9 V3 H11 V9 H9 V11 H0 Z" fill="#e81e6e"/>
</g>
<circle cx="249.4" cy="328.7" r="2.6" fill="#f5b01e" stroke="#c98310" stroke-width="0.4"/>
<text x="249.4" y="329.8" font-size="3.2" text-anchor="middle" font-weight="bold" fill="#5a3000">P</text>
<rect x="257.8" y="322.4" width="10.9" height="9.8" rx="2" fill="#fff" stroke="#3a3a3a" stroke-width="0.9"/>
<text x="263.2" y="330.2" font-size="8.3" text-anchor="middle" font-weight="bold" fill="#111">3</text>
<path d="M272.7,310.0 L291.4,310.0" fill="none" stroke="#1f6a2b" stroke-width="2.4" stroke-linejoin="round"/>
<path d="M294.8,310.0 L290.6,312.8 L290.6,307.2 Z" fill="#1f6a2b"/>
<g transform="translate(303.4,284.8)">
<path d="M1.5,0 H11 Q14.6,0.3 14.6,4 V8.2 L9.2,12.6 V31.5 L11,33.4 V40.5 L6.6,37.4 L2.1,40.5 V33.4 L3.9,31.5 V12.6 L0,8.8 V1.5 Q0,0 1.5,0 Z" fill="#18792c"/>
</g>
<g transform="translate(317.5,286.1)">
<path d="M4.4,0 H14 Q16,0 16,2 V10 Q16,12 14,12 H9.8 V34 H6.1 V12 H2 Q0,12 0,10 V5 A3.3,3.3 0 0 0 4.4,0 Z" fill="#f3a6de" stroke="#d98ac6" stroke-width="0.5"/>
</g>
<path d="M317,321 Q317.5,319 319.5,319 H331.5 Q334,319 334,321.5 V328 Q334,332 330,332 H324 Z" fill="#f3a6de" stroke="#d98ac6" stroke-width="0.5"/>
<g transform="translate(309.6,284.4) rotate(6)">
<path d="M0.4,5.2 Q0,4.4 0.8,3.7 L5.2,0.6 Q6.5,-0.3 7.8,0.6 L12.2,3.7 Q13,4.4 12.6,5.4 L11.8,7.2 Q11.2,8.1 10.2,7.5 L6.5,4.9 L2.8,7.5 Q1.8,8.1 1.2,7.2 Z" fill="#ee5a1c"/>
</g>
<g transform="translate(299.2,342.5) rotate(-41.5)">
<path d="M0,0 H8 A2.6,2.6 0 0 0 13,0 H25.5 V12.3 H19 A2.6,2.6 0 0 1 14,12.3 H0 L4,6.2 Z" fill="#1d5f8c"/>
</g>
<line x1="295.5" y1="283.3" x2="343.2" y2="338" stroke="#dc2020" stroke-width="4.2"/>
<line x1="343.2" y1="283.3" x2="295.5" y2="338" stroke="#dc2020" stroke-width="4.2"/>
<rect x="336.2" y="342.7" width="10.5" height="10.0" rx="2" fill="#fff" stroke="#3a3a3a" stroke-width="0.9"/>
<text x="341.4" y="350.6" font-size="8.3" text-anchor="middle" font-weight="bold" fill="#111">4</text>
<path d="M339.7,363.6 L322.3,346.6" fill="none" stroke="#444" stroke-width="0.7" stroke-dasharray="1.2 1.2"/>
<path d="M322.3,346.6 L325.2,347.2 L323.0,349.5 Z" fill="#444"/>
<g transform="translate(323.4,367.6)">
<path d="M0,0 H2 L6.2,5.2 L10.6,1.6 Q11.2,0 12.5,0 H26 V13.4 H22.6 A2.7,2.7 0 0 0 17.2,13.4 H0 Z" fill="#1d5f8c"/>
</g>
<text x="337.4" y="392.3" font-size="8.5" text-anchor="middle" fill="#2e2e2e" textLength="31.2" lengthAdjust="spacingAndGlyphs" stroke="#2e2e2e" stroke-width="0.30">R-SMAD</text>
<g transform="translate(106.1,423.7)">
<path d="M1,1.5 Q17,-7 34,-2.5 Q30.5,6.5 35.5,15.5 Q20,12 3.2,16.8 Q7,8 1,1.5 Z" fill="#fdf3c8" stroke="#f0c890" stroke-width="0.5"/>
<path d="M3.50,0.00 L3.72,-0.67 L3.89,-1.32 L3.99,-1.92 L3.97,-2.47 L3.81,-2.95 L3.52,-3.36 L3.09,-3.71 L2.55,-4.00 L1.93,-4.25 L1.26,-4.47 L0.60,-4.70 L-0.02,-4.95 L-0.56,-5.23 L-0.99,-5.58 L-1.29,-5.99 L-1.44,-6.47 L-1.46,-7.02 L-1.37,-7.63 L-1.19,-8.28 L-0.97,-8.94 L-0.75,-9.61 L-0.58,-10.26 L-0.49,-10.86 L-0.51,-11.41 L-0.66,-11.90 L-0.95,-12.31 L-1.38,-12.65 L-1.92,-12.94 L-2.54,-13.19 L-3.21,-13.42" fill="none" stroke="#be5ab8" stroke-width="1.7" stroke-linecap="round" stroke-linejoin="round"/>
<path d="M10.50,-2.30 L10.85,-2.91 L11.15,-3.51 L11.36,-4.08 L11.45,-4.62 L11.40,-5.13 L11.20,-5.59 L10.85,-6.02 L10.38,-6.41 L9.82,-6.78 L9.21,-7.13 L8.61,-7.49 L8.05,-7.86 L7.57,-8.25 L7.23,-8.67 L7.02,-9.13 L6.97,-9.64 L7.06,-10.18 L7.27,-10.75 L7.57,-11.35 L7.92,-11.96 L8.27,-12.57 L8.57,-13.17 L8.79,-13.75 L8.88,-14.29 L8.83,-14.79 L8.62,-15.25 L8.27,-15.68 L7.80,-16.07 L7.24,-16.44 L6.64,-16.79" fill="none" stroke="#be5ab8" stroke-width="1.7" stroke-linecap="round" stroke-linejoin="round"/>
<path d="M17.50,-3.20 L18.01,-3.68 L18.47,-4.17 L18.84,-4.66 L19.09,-5.15 L19.18,-5.65 L19.12,-6.15 L18.91,-6.65 L18.57,-7.17 L18.14,-7.68 L17.67,-8.20 L17.19,-8.71 L16.76,-9.23 L16.42,-9.74 L16.21,-10.25 L16.15,-10.75 L16.25,-11.25 L16.49,-11.74 L16.86,-12.23 L17.32,-12.71 L17.83,-13.19 L18.34,-13.68 L18.81,-14.16 L19.18,-14.65 L19.42,-15.14 L19.52,-15.64 L19.45,-16.14 L19.24,-16.65 L18.91,-17.16 L18.48,-17.68 L18.00,-18.19" fill="none" stroke="#be5ab8" stroke-width="1.7" stroke-linecap="round" stroke-linejoin="round"/>
<path d="M24.50,-3.30 L25.10,-3.67 L25.64,-4.06 L26.10,-4.47 L26.44,-4.90 L26.63,-5.37 L26.66,-5.88 L26.56,-6.41 L26.32,-6.98 L26.00,-7.57 L25.64,-8.17 L25.27,-8.77 L24.95,-9.36 L24.72,-9.92 L24.61,-10.46 L24.65,-10.97 L24.84,-11.44 L25.17,-11.87 L25.63,-12.28 L26.18,-12.66 L26.77,-13.04 L27.37,-13.41 L27.92,-13.80 L28.37,-14.21 L28.71,-14.64 L28.90,-15.11 L28.94,-15.61 L28.83,-16.15 L28.60,-16.72 L28.28,-17.31 L27.91,-17.91" fill="none" stroke="#be5ab8" stroke-width="1.7" stroke-linecap="round" stroke-linejoin="round"/>
<path d="M31.00,-2.80 L31.66,-3.04 L32.28,-3.31 L32.81,-3.61 L33.22,-3.97 L33.51,-4.39 L33.65,-4.88 L33.65,-5.42 L33.54,-6.03 L33.35,-6.67 L33.11,-7.33 L32.88,-7.99 L32.69,-8.63 L32.58,-9.24 L32.58,-9.79 L32.72,-10.27 L33.00,-10.69 L33.42,-11.05 L33.95,-11.35 L34.57,-11.62 L35.23,-11.86 L35.89,-12.11 L36.50,-12.37 L37.04,-12.67 L37.45,-13.03 L37.74,-13.45 L37.88,-13.94 L37.88,-14.49 L37.77,-15.09 L37.58,-15.73 L37.34,-16.39" fill="none" stroke="#be5ab8" stroke-width="1.7" stroke-linecap="round" stroke-linejoin="round"/>
<path d="M0.5,1.5 Q17,-7 34,-2.5" fill="none" stroke="#ec6a1c" stroke-width="2.6" stroke-linecap="round"/>
<circle cx="0.5" cy="1.5" r="2.1" fill="#ec6a1c"/><circle cx="34" cy="-2.5" r="2.1" fill="#ec6a1c"/>
<path d="M3.5,17 L11,21.5 L14,15.5 M21.5,15.2 L24.5,21 L35,15.8 M11,21.5 L24.5,21" fill="none" stroke="#1d3f8f" stroke-width="1.8" stroke-linejoin="round"/>
<path d="M3.2,16.8 Q20,12 35.5,15.5" fill="none" stroke="#ec6a1c" stroke-width="2.6" stroke-linecap="round"/>
<circle cx="3.2" cy="16.8" r="2.1" fill="#ec6a1c"/><circle cx="35.5" cy="15.5" r="2.1" fill="#ec6a1c"/>
</g>
<line x1="209.9" y1="456.0" x2="213.5" y2="463.4" stroke="#e07ac4" stroke-width="1.5"/>
<line x1="201.9" y1="463.4" x2="205.9" y2="456.0" stroke="#8a2a72" stroke-width="1.8"/>
<line x1="205.9" y1="463.4" x2="209.9" y2="456.0" stroke="#8a2a72" stroke-width="1.8"/>
<line x1="221.3" y1="456.0" x2="224.9" y2="463.4" stroke="#e07ac4" stroke-width="1.5"/>
<line x1="213.3" y1="463.4" x2="217.3" y2="456.0" stroke="#8a2a72" stroke-width="1.8"/>
<line x1="217.3" y1="463.4" x2="221.3" y2="456.0" stroke="#8a2a72" stroke-width="1.8"/>
<line x1="232.7" y1="456.0" x2="236.3" y2="463.4" stroke="#e07ac4" stroke-width="1.5"/>
<line x1="224.7" y1="463.4" x2="228.7" y2="456.0" stroke="#8a2a72" stroke-width="1.8"/>
<line x1="228.7" y1="463.4" x2="232.7" y2="456.0" stroke="#8a2a72" stroke-width="1.8"/>
<line x1="244.1" y1="456.0" x2="247.7" y2="463.4" stroke="#8cc0e8" stroke-width="1.5"/>
<line x1="236.1" y1="463.4" x2="240.1" y2="456.0" stroke="#1f64a0" stroke-width="1.8"/>
<line x1="240.1" y1="463.4" x2="244.1" y2="456.0" stroke="#1f64a0" stroke-width="1.8"/>
<line x1="255.5" y1="456.0" x2="259.1" y2="463.4" stroke="#8cc0e8" stroke-width="1.5"/>
<line x1="247.5" y1="463.4" x2="251.5" y2="456.0" stroke="#1f64a0" stroke-width="1.8"/>
<line x1="251.5" y1="463.4" x2="255.5" y2="456.0" stroke="#1f64a0" stroke-width="1.8"/>
<line x1="266.9" y1="456.0" x2="270.5" y2="463.4" stroke="#8cc0e8" stroke-width="1.5"/>
<line x1="258.9" y1="463.4" x2="262.9" y2="456.0" stroke="#1f64a0" stroke-width="1.8"/>
<line x1="262.9" y1="463.4" x2="266.9" y2="456.0" stroke="#1f64a0" stroke-width="1.8"/>
<line x1="278.3" y1="456.0" x2="281.9" y2="463.4" stroke="#8cc0e8" stroke-width="1.5"/>
<line x1="270.3" y1="463.4" x2="274.3" y2="456.0" stroke="#1f64a0" stroke-width="1.8"/>
<line x1="274.3" y1="463.4" x2="278.3" y2="456.0" stroke="#1f64a0" stroke-width="1.8"/>
<line x1="289.7" y1="456.0" x2="293.3" y2="463.4" stroke="#8cc0e8" stroke-width="1.5"/>
<line x1="281.7" y1="463.4" x2="285.7" y2="456.0" stroke="#1f64a0" stroke-width="1.8"/>
<line x1="285.7" y1="463.4" x2="289.7" y2="456.0" stroke="#1f64a0" stroke-width="1.8"/>
<path d="M209.4,445.5 H225.9 L223.4,454.1 H204.5 Z" fill="#e63cb4"/>
<text x="215.2" y="451.5" font-size="4.6" text-anchor="middle" font-weight="bold" fill="#6a1050">BRE</text>
<line x1="224.4" y1="449.9" x2="229.4" y2="449.9" stroke="#6a1050" stroke-width="1"/>
<path d="M229.2,445.5 H239.8 A4.4,4.4 0 0 1 239.8,454.3 H229.2 Z" fill="#f7a21b"/>
<text x="236.6" y="451.5" font-size="4.4" text-anchor="middle" font-weight="bold" fill="#5a2a00">Luc</text>
<line x1="209.7" y1="435.1" x2="243" y2="463.7" stroke="#d42020" stroke-width="3.3"/>
<line x1="243" y1="435.1" x2="209.7" y2="463.7" stroke="#d42020" stroke-width="3.3"/>
<text x="33.4" y="432.6" font-size="6.0" text-anchor="middle" fill="#2a2a2a" textLength="36" lengthAdjust="spacingAndGlyphs" stroke="#2a2a2a" stroke-width="0.18">CYTOPLASM</text>
<text x="33.2" y="466.4" font-size="6.0" text-anchor="middle" fill="#2a2a2a" textLength="29" lengthAdjust="spacingAndGlyphs" stroke="#2a2a2a" stroke-width="0.18">NUCLEUS</text>
<text x="373.6" y="258.1" font-size="24" text-anchor="start" font-weight="bold" fill="#000" textLength="17.78" lengthAdjust="spacingAndGlyphs">D</text>
<g transform="translate(406.0,285.6) scale(1.05)">
<path d="M0,-4.6 Q1.2,-2.4 2.9,0.2 Q3.6,1.6 3,2.8 Q2,4.4 0,4.4 Q-2,4.4 -3,2.8 Q-3.6,1.6 -2.9,0.2 Q-1.2,-2.4 0,-4.6 Z" fill="#7d1a7f"/>
</g>
<text x="423.1" y="284.3" font-size="8.2" text-anchor="middle" font-weight="bold" fill="#222" textLength="19.6" lengthAdjust="spacingAndGlyphs">8-Br-</text>
<text x="423.3" y="294.5" font-size="8.2" text-anchor="middle" font-weight="bold" fill="#222" textLength="22" lengthAdjust="spacingAndGlyphs">cAMP</text>
<line x1="405.5" y1="292.3" x2="405.5" y2="322" stroke="#000" stroke-width="2"/>
<path d="M405.5,324.5 L405.5,331.8" fill="none" stroke="#000" stroke-width="2" stroke-dasharray="2 2.2"/>
<path d="M405.5,336.8 L402.5,331.3 L408.5,331.3 Z" fill="#000"/>
<rect x="378.2" y="321.7" width="13.4" height="9.0" rx="2" fill="#fff" stroke="#3a3a3a" stroke-width="0.9"/>
<text x="384.9" y="328.9" font-size="7.6" text-anchor="middle" font-weight="bold" fill="#111">a</text>
<g transform="translate(414.7,328.8)">
<path d="M0,-4.6 Q1.2,-2.4 2.9,0.2 Q3.6,1.6 3,2.8 Q2,4.4 0,4.4 Q-2,4.4 -3,2.8 Q-3.6,1.6 -2.9,0.2 Q-1.2,-2.4 0,-4.6 Z" fill="#7d1a7f"/>
</g>
<g transform="translate(421.0,335.1)">
<path d="M0,-4.6 Q1.2,-2.4 2.9,0.2 Q3.6,1.6 3,2.8 Q2,4.4 0,4.4 Q-2,4.4 -3,2.8 Q-3.6,1.6 -2.9,0.2 Q-1.2,-2.4 0,-4.6 Z" fill="#7d1a7f"/>
</g>
<g transform="translate(398.4,340.9)">
<path d="M0,-4.6 Q1.2,-2.4 2.9,0.2 Q3.6,1.6 3,2.8 Q2,4.4 0,4.4 Q-2,4.4 -3,2.8 Q-3.6,1.6 -2.9,0.2 Q-1.2,-2.4 0,-4.6 Z" fill="#7d1a7f"/>
</g>
<g transform="translate(413.7,340.3)">
<path d="M0,-4.6 Q1.2,-2.4 2.9,0.2 Q3.6,1.6 3,2.8 Q2,4.4 0,4.4 Q-2,4.4 -3,2.8 Q-3.6,1.6 -2.9,0.2 Q-1.2,-2.4 0,-4.6 Z" fill="#7d1a7f"/>
</g>
<g transform="translate(405.6,345.1)">
<path d="M0,-4.6 Q1.2,-2.4 2.9,0.2 Q3.6,1.6 3,2.8 Q2,4.4 0,4.4 Q-2,4.4 -3,2.8 Q-3.6,1.6 -2.9,0.2 Q-1.2,-2.4 0,-4.6 Z" fill="#7d1a7f"/>
</g>
<text x="382.6" y="347.5" font-size="8.0" text-anchor="middle" fill="#2e2e2e" textLength="19" lengthAdjust="spacingAndGlyphs" stroke="#2e2e2e" stroke-width="0.28">8-Br-</text>
<text x="382.6" y="357.5" font-size="8.0" text-anchor="middle" fill="#2e2e2e" textLength="21" lengthAdjust="spacingAndGlyphs" stroke="#2e2e2e" stroke-width="0.28">cAMP</text>
<path d="M432.5,331.3 L450.3,331.3 Q453.3,331.3 453.3,334.3 L453.3,337.1" fill="none" stroke="#1f6a2b" stroke-width="2.4" stroke-linejoin="round"/>
<path d="M453.3,340.5 L450.5,336.3 L456.1,336.3 Z" fill="#1f6a2b"/>
<g transform="translate(433.4,350.8)">
<path d="M0,1.2 Q0,0 1.2,0 H18.8 Q20,0 20,1.2 V14.6 L10,18.2 L0,14.6 Z" fill="#f9b320"/>
<text x="10.0" y="12.2" font-size="8.2" text-anchor="middle" fill="#3a2605" stroke="#3a2605" stroke-width="0.29">R</text>
</g>
<g transform="translate(453.5,350.8)">
<path d="M0,1.2 Q0,0 1.2,0 H18.8 Q20,0 20,1.2 V14.6 L10,18.2 L0,14.6 Z" fill="#f9b320"/>
<text x="10.0" y="12.2" font-size="8.2" text-anchor="middle" fill="#3a2605" stroke="#3a2605" stroke-width="0.29">R</text>
</g>
<g transform="translate(439.2,347.0) scale(0.95)">
<path d="M0,-4.6 Q1.2,-2.4 2.9,0.2 Q3.6,1.6 3,2.8 Q2,4.4 0,4.4 Q-2,4.4 -3,2.8 Q-3.6,1.6 -2.9,0.2 Q-1.2,-2.4 0,-4.6 Z" fill="#7d1a7f"/>
</g>
<g transform="translate(448.4,347.0) scale(0.95)">
<path d="M0,-4.6 Q1.2,-2.4 2.9,0.2 Q3.6,1.6 3,2.8 Q2,4.4 0,4.4 Q-2,4.4 -3,2.8 Q-3.6,1.6 -2.9,0.2 Q-1.2,-2.4 0,-4.6 Z" fill="#7d1a7f"/>
</g>
<g transform="translate(459.9,347.0) scale(0.95)">
<path d="M0,-4.6 Q1.2,-2.4 2.9,0.2 Q3.6,1.6 3,2.8 Q2,4.4 0,4.4 Q-2,4.4 -3,2.8 Q-3.6,1.6 -2.9,0.2 Q-1.2,-2.4 0,-4.6 Z" fill="#7d1a7f"/>
</g>
<g transform="translate(468.3,347.0) scale(0.95)">
<path d="M0,-4.6 Q1.2,-2.4 2.9,0.2 Q3.6,1.6 3,2.8 Q2,4.4 0,4.4 Q-2,4.4 -3,2.8 Q-3.6,1.6 -2.9,0.2 Q-1.2,-2.4 0,-4.6 Z" fill="#7d1a7f"/>
</g>
<line x1="443.4" y1="369.2" x2="443.4" y2="378.6" stroke="#d23" stroke-width="0.8" stroke-dasharray="1 1"/>
<line x1="463.5" y1="369.2" x2="463.5" y2="378.6" stroke="#d23" stroke-width="0.8" stroke-dasharray="1 1"/>
<g transform="translate(433.4,378.6)">
<path d="M0,10 V5 Q0,0.4 4.6,0.2 Q7.8,0.1 9.0,2.4 L10,4.2 L11.0,2.4 Q12.2,0.1 15.4,0.2 Q20,0.4 20,5 V10 Z" fill="#ea1f90" stroke="#c8167a" stroke-width="0.45"/>
<text x="10.0" y="8.7" font-size="7.6" text-anchor="middle" fill="#74063f" stroke="#74063f" stroke-width="0.27">C</text>
</g>
<g transform="translate(453.5,378.6)">
<path d="M0,10 V5 Q0,0.4 4.6,0.2 Q7.8,0.1 9.0,2.4 L10,4.2 L11.0,2.4 Q12.2,0.1 15.4,0.2 Q20,0.4 20,5 V10 Z" fill="#ea1f90" stroke="#c8167a" stroke-width="0.45"/>
<text x="10.0" y="8.7" font-size="7.6" text-anchor="middle" fill="#74063f" stroke="#74063f" stroke-width="0.27">C</text>
</g>
<rect x="415.5" y="367.4" width="15.5" height="11.1" rx="2" fill="#fff" stroke="#3a3a3a" stroke-width="0.9"/>
<text x="423.2" y="375.6" font-size="7.6" text-anchor="middle" font-weight="bold" fill="#111">b</text>
<path d="M481.4,384.0 L493.6,384.0" fill="none" stroke="#1f6a2b" stroke-width="2.4" stroke-linejoin="round"/>
<path d="M497.0,384.0 L492.8,386.8 L492.8,381.2 Z" fill="#1f6a2b"/>
<ellipse cx="518.2" cy="372.6" rx="14" ry="11.5" fill="url(#gy)" style="mix-blend-mode:multiply"/>
<g transform="translate(508.2,367.1)">
<path d="M0,10 V5 Q0,0.4 4.6,0.2 Q7.8,0.1 9.0,2.4 L10,4.2 L11.0,2.4 Q12.2,0.1 15.4,0.2 Q20,0.4 20,5 V10 Z" fill="#ea1f90" stroke="#c8167a" stroke-width="0.45"/>
<text x="10.0" y="8.7" font-size="7.6" text-anchor="middle" fill="#74063f" stroke="#74063f" stroke-width="0.27">C</text>
</g>
<ellipse cx="544.1" cy="376.5" rx="14" ry="11.5" fill="url(#gy)" style="mix-blend-mode:multiply"/>
<g transform="translate(534.1,371.0)">
<path d="M0,10 V5 Q0,0.4 4.6,0.2 Q7.8,0.1 9.0,2.4 L10,4.2 L11.0,2.4 Q12.2,0.1 15.4,0.2 Q20,0.4 20,5 V10 Z" fill="#ea1f90" stroke="#c8167a" stroke-width="0.45"/>
<text x="10.0" y="8.7" font-size="7.6" text-anchor="middle" fill="#74063f" stroke="#74063f" stroke-width="0.27">C</text>
</g>
<text x="528.9" y="390.2" font-size="8.2" text-anchor="middle" fill="#2e2e2e" textLength="48" lengthAdjust="spacingAndGlyphs" stroke="#2e2e2e" stroke-width="0.29">Activate PKA</text>
<text x="528.4" y="400.7" font-size="8.2" text-anchor="middle" fill="#2e2e2e" textLength="68" lengthAdjust="spacingAndGlyphs" stroke="#2e2e2e" stroke-width="0.29">catalytic subunits</text>
<g transform="translate(526.4,320.6)">
<path d="M0,1.2 Q0,0 1.2,0 H2.7 A1.4,1.4 0 0 0 5.5,0 H8.6 A1.4,1.4 0 0 0 11.4,0 H14.5 A1.4,1.4 0 0 0 17.3,0 H18.8 Q20,0 20,1.2 V14.6 L10,18.2 L0,14.6 Z" fill="#f9b320"/>
<text x="10.0" y="12.2" font-size="8.2" text-anchor="middle" fill="#3a2605" stroke="#3a2605" stroke-width="0.29">R</text>
</g>
<g transform="translate(546.6,320.6)">
<path d="M0,1.2 Q0,0 1.2,0 H2.7 A1.4,1.4 0 0 0 5.5,0 H8.6 A1.4,1.4 0 0 0 11.4,0 H14.5 A1.4,1.4 0 0 0 17.3,0 H18.8 Q20,0 20,1.2 V14.6 L10,18.2 L0,14.6 Z" fill="#f9b320"/>
<text x="10.0" y="12.2" font-size="8.2" text-anchor="middle" fill="#3a2605" stroke="#3a2605" stroke-width="0.29">R</text>
</g>
<g transform="translate(526.4,336.6)">
<path d="M0,10 V5 Q0,0.4 4.6,0.2 Q7.8,0.1 9.0,2.4 L10,4.2 L11.0,2.4 Q12.2,0.1 15.4,0.2 Q20,0.4 20,5 V10 Z" fill="#ea1f90" stroke="#c8167a" stroke-width="0.45"/>
<text x="10.0" y="8.7" font-size="7.6" text-anchor="middle" fill="#74063f" stroke="#74063f" stroke-width="0.27">C</text>
</g>
<g transform="translate(546.6,336.6)">
<path d="M0,10 V5 Q0,0.4 4.6,0.2 Q7.8,0.1 9.0,2.4 L10,4.2 L11.0,2.4 Q12.2,0.1 15.4,0.2 Q20,0.4 20,5 V10 Z" fill="#ea1f90" stroke="#c8167a" stroke-width="0.45"/>
<text x="10.0" y="8.7" font-size="7.6" text-anchor="middle" fill="#74063f" stroke="#74063f" stroke-width="0.27">C</text>
</g>
<text x="546.6" y="353.7" font-size="8.0" text-anchor="middle" fill="#2e2e2e" textLength="47" lengthAdjust="spacingAndGlyphs" stroke="#2e2e2e" stroke-width="0.28">Inactive PKA</text>
<path d="M519.7,335.5 L489.3,352.5" fill="none" stroke="#444" stroke-width="0.7" stroke-dasharray="1.2 1.2"/>
<path d="M489.3,352.5 L490.8,349.9 L492.3,352.6 Z" fill="#444"/>
<path d="M573.1,335.3 L602.9,352.7" fill="none" stroke="#444" stroke-width="0.7" stroke-dasharray="1.2 1.2"/>
<path d="M602.9,352.7 L599.9,352.8 L601.5,350.0 Z" fill="#444"/>
<rect x="557.7" y="368.1" width="15.4" height="10.9" rx="2" fill="#fff" stroke="#3a3a3a" stroke-width="0.9"/>
<text x="565.4" y="376.2" font-size="7.6" text-anchor="middle" font-weight="bold" fill="#111">c</text>
<path d="M560.5,384.3 L596.9,384.3 Q599.9,384.3 599.9,387.3 L599.9,431.6" fill="none" stroke="#1f6a2b" stroke-width="2.4" stroke-linejoin="round"/>
<path d="M599.9,435.0 L597.1,430.8 L602.7,430.8 Z" fill="#1f6a2b"/>
<ellipse cx="600.8" cy="446.2" rx="14" ry="11.5" fill="url(#gy)" style="mix-blend-mode:multiply"/>
<g transform="translate(590.8,440.7)">
<path d="M0,10 V5 Q0,0.4 4.6,0.2 Q7.8,0.1 9.0,2.4 L10,4.2 L11.0,2.4 Q12.2,0.1 15.4,0.2 Q20,0.4 20,5 V10 Z" fill="#ea1f90" stroke="#c8167a" stroke-width="0.45"/>
<text x="10.0" y="8.7" font-size="7.6" text-anchor="middle" fill="#74063f" stroke="#74063f" stroke-width="0.27">C</text>
</g>
<rect x="620.4" y="444.5" width="15.1" height="9.9" rx="2" fill="#fff" stroke="#3a3a3a" stroke-width="0.9"/>
<text x="628.0" y="452.1" font-size="7.6" text-anchor="middle" font-weight="bold" fill="#111">d</text>
<line x1="650.5" y1="383.2" x2="612.5" y2="435.3" stroke="#9b1c1c" stroke-width="1.9"/>
<line x1="608.9" y1="432.6" x2="616.1" y2="438.0" stroke="#9b1c1c" stroke-width="2.3"/>
<text x="666.7" y="284.1" font-size="8.2" text-anchor="middle" font-weight="bold" fill="#222" textLength="40" lengthAdjust="spacingAndGlyphs">Rp-8-CPT-</text>
<text x="667.0" y="295.0" font-size="8.2" text-anchor="middle" font-weight="bold" fill="#222" textLength="28.3" lengthAdjust="spacingAndGlyphs">cAMPS</text>
<g transform="translate(694.4,286.6)">
<path d="M-4.2,-2.6 H4.2 Q4,1 2.2,2.4 Q0,3.6 -2.2,2.4 Q-4,1 -4.2,-2.6 Z" fill="#2bbde6"/>
</g>
<line x1="694.4" y1="292.1" x2="694.4" y2="320" stroke="#000" stroke-width="2"/>
<path d="M694.4,322.5 L694.4,331.8" fill="none" stroke="#000" stroke-width="2" stroke-dasharray="2 2.2"/>
<path d="M694.4,336.8 L691.4,331.3 L697.4,331.3 Z" fill="#000"/>
<rect x="700.1" y="320.9" width="16.5" height="11.3" rx="2" fill="#fff" stroke="#3a3a3a" stroke-width="0.9"/>
<text x="708.4" y="329.2" font-size="7.6" text-anchor="middle" font-weight="bold" fill="#111">a'</text>
<g transform="translate(682.7,333.2)">
<path d="M-4.2,-2.6 H4.2 Q4,1 2.2,2.4 Q0,3.6 -2.2,2.4 Q-4,1 -4.2,-2.6 Z" fill="#2bbde6"/>
</g>
<g transform="translate(689.9,340.4)">
<path d="M-4.2,-2.6 H4.2 Q4,1 2.2,2.4 Q0,3.6 -2.2,2.4 Q-4,1 -4.2,-2.6 Z" fill="#2bbde6"/>
</g>
<g transform="translate(698.1,345.5)">
<path d="M-4.2,-2.6 H4.2 Q4,1 2.2,2.4 Q0,3.6 -2.2,2.4 Q-4,1 -4.2,-2.6 Z" fill="#2bbde6"/>
</g>
<g transform="translate(688.8,350.7)">
<path d="M-4.2,-2.6 H4.2 Q4,1 2.2,2.4 Q0,3.6 -2.2,2.4 Q-4,1 -4.2,-2.6 Z" fill="#2bbde6"/>
</g>
<g transform="translate(697.7,355.2)">
<path d="M-4.2,-2.6 H4.2 Q4,1 2.2,2.4 Q0,3.6 -2.2,2.4 Q-4,1 -4.2,-2.6 Z" fill="#2bbde6"/>
</g>
<path d="M671.4,331.2 L653.6,331.2 Q650.6,331.2 650.6,334.2 L650.6,336.6" fill="none" stroke="#1f6a2b" stroke-width="2.4" stroke-linejoin="round"/>
<path d="M650.6,340.0 L647.8,335.8 L653.4,335.8 Z" fill="#1f6a2b"/>
<g transform="translate(630.3,354.8)">
<path d="M0,1.2 Q0,0 1.2,0 H18.8 Q20,0 20,1.2 V14.6 L10,18.2 L0,14.6 Z" fill="#f9b320"/>
<text x="10.0" y="12.2" font-size="8.2" text-anchor="middle" fill="#3a2605" stroke="#3a2605" stroke-width="0.29">R</text>
</g>
<g transform="translate(650.6,354.8)">
<path d="M0,1.2 Q0,0 1.2,0 H18.8 Q20,0 20,1.2 V14.6 L10,18.2 L0,14.6 Z" fill="#f9b320"/>
<text x="10.0" y="12.2" font-size="8.2" text-anchor="middle" fill="#3a2605" stroke="#3a2605" stroke-width="0.29">R</text>
</g>
<ellipse cx="640.4" cy="376.0" rx="14" ry="9" fill="url(#gd)" style="mix-blend-mode:multiply"/>
<ellipse cx="660.7" cy="376.0" rx="14" ry="9" fill="url(#gd)" style="mix-blend-mode:multiply"/>
<g transform="translate(630.3,370.4)">
<path d="M0,10 V5 Q0,0.4 4.6,0.2 Q7.8,0.1 9.0,2.4 L10,4.2 L11.0,2.4 Q12.2,0.1 15.4,0.2 Q20,0.4 20,5 V10 Z" fill="#ea1f90" stroke="#c8167a" stroke-width="0.45"/>
<text x="10.0" y="8.7" font-size="7.6" text-anchor="middle" fill="#74063f" stroke="#74063f" stroke-width="0.27">C</text>
</g>
<g transform="translate(650.6,370.4)">
<path d="M0,10 V5 Q0,0.4 4.6,0.2 Q7.8,0.1 9.0,2.4 L10,4.2 L11.0,2.4 Q12.2,0.1 15.4,0.2 Q20,0.4 20,5 V10 Z" fill="#ea1f90" stroke="#c8167a" stroke-width="0.45"/>
<text x="10.0" y="8.7" font-size="7.6" text-anchor="middle" fill="#74063f" stroke="#74063f" stroke-width="0.27">C</text>
</g>
<g transform="translate(636.4,353.0) scale(0.95)">
<path d="M-4.2,-2.6 H4.2 Q4,1 2.2,2.4 Q0,3.6 -2.2,2.4 Q-4,1 -4.2,-2.6 Z" fill="#2bbde6"/>
</g>
<g transform="translate(644.7,353.0) scale(0.95)">
<path d="M-4.2,-2.6 H4.2 Q4,1 2.2,2.4 Q0,3.6 -2.2,2.4 Q-4,1 -4.2,-2.6 Z" fill="#2bbde6"/>
</g>
<g transform="translate(657.0,353.0) scale(0.95)">
<path d="M-4.2,-2.6 H4.2 Q4,1 2.2,2.4 Q0,3.6 -2.2,2.4 Q-4,1 -4.2,-2.6 Z" fill="#2bbde6"/>
</g>
<g transform="translate(665.2,353.0) scale(0.95)">
<path d="M-4.2,-2.6 H4.2 Q4,1 2.2,2.4 Q0,3.6 -2.2,2.4 Q-4,1 -4.2,-2.6 Z" fill="#2bbde6"/>
</g>
<rect x="676.5" y="375.3" width="15.0" height="9.9" rx="2" fill="#fff" stroke="#3a3a3a" stroke-width="0.9"/>
<text x="684.0" y="382.9" font-size="7.6" text-anchor="middle" font-weight="bold" fill="#111">b'</text>
<rect x="397.5" y="426.6" width="25.4" height="9.8" rx="4.9" fill="#f06a12"/>
<circle cx="414.7" cy="425.5" r="2.4" fill="#f5b01e" stroke="#c98310" stroke-width="0.4"/>
<text x="414.7" y="426.6" font-size="3.2" text-anchor="middle" font-weight="bold" fill="#5a3000">P</text>
<rect x="426.1" y="424.6" width="14.8" height="10.6" rx="2" fill="#fff" stroke="#3a3a3a" stroke-width="0.9"/>
<text x="433.5" y="432.6" font-size="7.6" text-anchor="middle" font-weight="bold" fill="#111">e</text>
<line x1="402.5" y1="447.8" x2="406.1" y2="455.7" stroke="#6cd87a" stroke-width="1.5"/>
<line x1="394.5" y1="455.7" x2="398.5" y2="447.8" stroke="#1d6a2a" stroke-width="1.8"/>
<line x1="398.5" y1="455.7" x2="402.5" y2="447.8" stroke="#1d6a2a" stroke-width="1.8"/>
<line x1="413.9" y1="447.8" x2="417.5" y2="455.7" stroke="#6cd87a" stroke-width="1.5"/>
<line x1="405.9" y1="455.7" x2="409.9" y2="447.8" stroke="#1d6a2a" stroke-width="1.8"/>
<line x1="409.9" y1="455.7" x2="413.9" y2="447.8" stroke="#1d6a2a" stroke-width="1.8"/>
<line x1="425.3" y1="447.8" x2="428.9" y2="455.7" stroke="#6cd87a" stroke-width="1.5"/>
<line x1="417.3" y1="455.7" x2="421.3" y2="447.8" stroke="#1d6a2a" stroke-width="1.8"/>
<line x1="421.3" y1="455.7" x2="425.3" y2="447.8" stroke="#1d6a2a" stroke-width="1.8"/>
<line x1="436.7" y1="447.8" x2="440.3" y2="455.7" stroke="#6cd87a" stroke-width="1.5"/>
<line x1="428.7" y1="455.7" x2="432.7" y2="447.8" stroke="#1d6a2a" stroke-width="1.8"/>
<line x1="432.7" y1="455.7" x2="436.7" y2="447.8" stroke="#1d6a2a" stroke-width="1.8"/>
<line x1="448.1" y1="447.8" x2="451.7" y2="455.7" stroke="#8cc0e8" stroke-width="1.5"/>
<line x1="440.1" y1="455.7" x2="444.1" y2="447.8" stroke="#1f64a0" stroke-width="1.8"/>
<line x1="444.1" y1="455.7" x2="448.1" y2="447.8" stroke="#1f64a0" stroke-width="1.8"/>
<line x1="459.5" y1="447.8" x2="463.1" y2="455.7" stroke="#8cc0e8" stroke-width="1.5"/>
<line x1="451.5" y1="455.7" x2="455.5" y2="447.8" stroke="#1f64a0" stroke-width="1.8"/>
<line x1="455.5" y1="455.7" x2="459.5" y2="447.8" stroke="#1f64a0" stroke-width="1.8"/>
<line x1="470.9" y1="447.8" x2="474.5" y2="455.7" stroke="#8cc0e8" stroke-width="1.5"/>
<line x1="462.9" y1="455.7" x2="466.9" y2="447.8" stroke="#1f64a0" stroke-width="1.8"/>
<line x1="466.9" y1="455.7" x2="470.9" y2="447.8" stroke="#1f64a0" stroke-width="1.8"/>
<line x1="482.3" y1="447.8" x2="485.9" y2="455.7" stroke="#8cc0e8" stroke-width="1.5"/>
<line x1="474.3" y1="455.7" x2="478.3" y2="447.8" stroke="#1f64a0" stroke-width="1.8"/>
<line x1="478.3" y1="455.7" x2="482.3" y2="447.8" stroke="#1f64a0" stroke-width="1.8"/>
<line x1="485.7" y1="455.7" x2="489.7" y2="447.8" stroke="#1f64a0" stroke-width="1.8"/>
<path d="M403.8,437.7 H422.8 L418.4,446.4 H399.4 Z" fill="#22c55a"/>
<text x="409.8" y="443.9" font-size="4.6" text-anchor="middle" font-weight="bold" fill="#0c4a1c">CRE</text>
<line x1="419.8" y1="442.1" x2="425.8" y2="442.1" stroke="#6a1050" stroke-width="1"/>
<path d="M426.3,437.7 H436.3 A4.5,4.5 0 0 1 436.3,446.7 H426.3 A1,1 0 0 1 425.3,445.7 V438.7 A1,1 0 0 1 426.3,437.7 Z" fill="#f7a21b"/>
<text x="432.8" y="443.8" font-size="4.4" text-anchor="middle" font-weight="bold" fill="#5a2a00">Luc</text>
<path d="M442.6,447.5 V441.5 Q442.6,439.5 444.6,439.5 H458.6" fill="none" stroke="#e3262b" stroke-width="1.3"/>
<path d="M461.6,439.5 L457.6,437.1 L457.6,441.9 Z" fill="#e3262b"/>
<path d="M514.8,432.0 L448.5,432.0" fill="none" stroke="#1f6a2b" stroke-width="2.4" stroke-linejoin="round"/>
<path d="M445.1,432.0 L449.3,429.2 L449.3,434.8 Z" fill="#1f6a2b"/>
<rect x="525.7" y="426.0" width="25" height="9.8" rx="4.9" fill="#f06a12"/>
<circle cx="542.3" cy="425.0" r="2.4" fill="#f5b01e" stroke="#c98310" stroke-width="0.4"/>
<text x="542.3" y="426.1" font-size="3.2" text-anchor="middle" font-weight="bold" fill="#5a3000">P</text>
<path d="M530.4,453.2 H541.7 Q543.7,456.2 545.7,453.2 H546.0 A4.7,4.7 0 0 1 546.0,462.6 H530.4 A4.7,4.7 0 0 1 530.4,453.2 Z" fill="#f06a12"/>
<text x="514.6" y="460.4" font-size="8.5" text-anchor="middle" fill="#2e2e2e" textLength="19" lengthAdjust="spacingAndGlyphs" stroke="#2e2e2e" stroke-width="0.30">CREB</text>
<path d="M573.8,429.9 Q564.2,431.9 564.2,444.6 Q564.2,457.4 572.8,459.4" fill="none" stroke="#1d4f80" stroke-width="2"/>
<path d="M556.7,431.9 Q564.2,432.9 564.2,444.6 Q564.2,457.4 554.7,458.9" fill="none" stroke="#1d4f80" stroke-width="2"/>
<path d="M554.7,429.9 l5,-0.5 l-2.4,4.2 Z" fill="#1d4f80"/>
<path d="M574.8,460.9 l-5,0.5 l2.4,-4.2 Z" fill="#1d4f80"/>
<text x="14.8" y="511.4" font-size="24" text-anchor="start" font-weight="bold" fill="#000" textLength="13.32" lengthAdjust="spacingAndGlyphs">E</text>
<path d="M78.6,567.0 L78.3,570.8 L76.2,574.1 L73.6,576.8 L72.1,579.4 L72.0,582.9 L72.5,587.1 L72.4,591.3 L71.1,594.5 L68.8,596.3 L66.2,597.5 L63.8,598.6 L61.8,600.1 L59.8,601.9 L57.8,603.9 L55.8,606.0 L53.6,608.1 L51.1,609.2 L48.6,608.7 L46.2,606.5 L44.1,603.8 L42.1,602.4 L39.6,602.9 L36.6,604.4 L33.6,604.8 L31.5,602.6 L30.6,598.3 L30.3,593.7 L29.5,590.3 L27.5,588.5 L24.7,587.1 L22.2,584.9 L21.0,581.6 L21.0,577.7 L21.7,573.9 L22.2,570.4 L22.3,567.0 L22.2,563.6 L22.0,560.2 L21.8,556.5 L21.7,552.7 L22.2,549.1 L23.8,546.1 L26.3,544.3 L28.9,543.0 L30.8,541.1 L31.7,537.7 L32.3,533.2 L33.6,529.2 L36.0,527.6 L39.0,528.7 L41.9,530.6 L44.3,531.2 L46.4,529.6 L48.6,526.8 L51.1,524.8 L53.7,524.9 L56.0,526.9 L58.0,529.6 L59.8,532.0 L61.8,533.9 L63.8,535.4 L66.0,536.9 L68.2,538.4 L70.6,540.2 L72.5,542.7 L73.4,546.1 L73.3,550.3 L72.7,554.2 L72.9,557.5 L74.5,560.4 L76.9,563.4 Z" fill="#fde08c" opacity="1.0" filter="url(#blur2_2)" style="mix-blend-mode:multiply"/>
<text x="49.3" y="532.0" font-size="8.5" text-anchor="middle" font-weight="bold" fill="#111" textLength="28" lengthAdjust="spacingAndGlyphs">sbAmh</text>
<g transform="translate(33.1,535.4) scale(1.02,1.04)">
<path d="M1.5,0 H11 Q14.6,0.3 14.6,4 V8.2 L9.2,12.6 V31.5 L11,33.4 V40.5 L6.6,37.4 L2.1,40.5 V33.4 L3.9,31.5 V12.6 L0,8.8 V1.5 Q0,0 1.5,0 Z" fill="#18792c"/>
</g>
<g transform="translate(47.9,535.4) scale(1.13,1.0)">
<path d="M4.4,0 H14 Q16,0 16,2 V10 Q16,12 14,12 H9.8 V34 H6.1 V12 H2 Q0,12 0,10 V5 A3.3,3.3 0 0 0 4.4,0 Z" fill="#f3a6de" stroke="#d98ac6" stroke-width="0.5"/>
</g>
<path d="M49,573 Q49.5,570 52,570 H64.5 Q67.2,570 67.2,573 V578.5 Q67.2,582.6 63,582.6 H57 Z" fill="#f3a6de" stroke="#d98ac6" stroke-width="0.5"/>
<g transform="translate(40.8,534.3) rotate(8)">
<path d="M0.4,5.2 Q0,4.4 0.8,3.7 L5.2,0.6 Q6.5,-0.3 7.8,0.6 L12.2,3.7 Q13,4.4 12.6,5.4 L11.8,7.2 Q11.2,8.1 10.2,7.5 L6.5,4.9 L2.8,7.5 Q1.8,8.1 1.2,7.2 Z" fill="#ee5a1c"/>
</g>
<g transform="translate(30.4,591.9) rotate(-40.8)">
<path d="M0,0 H8 A2.6,2.6 0 0 0 13,0 H25.5 V12.3 H19 A2.6,2.6 0 0 1 14,12.3 H0 L4,6.2 Z" fill="#1d5f8c"/>
</g>
<circle cx="63.8" cy="579.3" r="2.8" fill="#f5b01e" stroke="#c98310" stroke-width="0.4"/>
<text x="63.8" y="580.4" font-size="3.2" text-anchor="middle" font-weight="bold" fill="#5a3000">P</text>
<rect x="18.4" y="573.4" width="10.4" height="10.5" rx="2" fill="#fff" stroke="#3a3a3a" stroke-width="0.9"/>
<text x="23.6" y="581.6" font-size="8.3" text-anchor="middle" font-weight="bold" fill="#111">1</text>
<path d="M74.8,583.9 L233.8,609.8" fill="none" stroke="#a3a3a3" stroke-width="2.2" stroke-dasharray="2.2 2.2"/>
<path d="M240.5,610.8 L233.6,613.1 L234.6,606.5 Z" fill="#a3a3a3"/>
<text x="154.4" y="606.8" font-size="28.5" text-anchor="middle" fill="#d0112f" stroke="#d0112f" stroke-width="1.00">?</text>
<text x="195.6" y="631.9" font-size="28.5" text-anchor="middle" fill="#d0112f" stroke="#d0112f" stroke-width="1.00">?</text>
<path d="M48.3,604.2 L62.9,615.2" fill="none" stroke="#1f6a2b" stroke-width="2.4" stroke-linejoin="round"/>
<path d="M65.6,617.2 L60.6,616.9 L63.9,612.5 Z" fill="#1f6a2b"/>
<g transform="translate(69.4,616.4)">
<path d="M0,0 H2.5 L6.6,5.8 L10.7,0 H26.3 V13.5 H0 Z" fill="#1d5f8c"/>
</g>
<circle cx="87.6" cy="630.0" r="2.6" fill="#f5b01e" stroke="#c98310" stroke-width="0.4"/>
<text x="87.6" y="631.1" font-size="3.2" text-anchor="middle" font-weight="bold" fill="#5a3000">P</text>
<path d="M100.0,623.3 L117.2,623.3" fill="none" stroke="#1f6a2b" stroke-width="2.4" stroke-linejoin="round"/>
<path d="M120.6,623.3 L116.4,626.1 L116.4,620.5 Z" fill="#1f6a2b"/>
<rect x="128.5" y="616.9" width="25.7" height="13.1" fill="#1d5f8c"/>
<g transform="translate(113.7,608.5) scale(0.98)">
<path d="M3.7,0 H26.3 V10.5 Q26.3,14 23,14 H20.5 Q17.2,12.5 16.6,7.4 H3.7 A3.7,3.7 0 0 1 3.7,0 Z" fill="#c0103a"/>
</g>
<circle cx="146.8" cy="629.6" r="2.6" fill="#f5b01e" stroke="#c98310" stroke-width="0.4"/>
<text x="146.8" y="630.7" font-size="3.2" text-anchor="middle" font-weight="bold" fill="#5a3000">P</text>
<path d="M158.6,619.4 L234.0,619.0" fill="none" stroke="#000" stroke-width="2.3" stroke-dasharray="2.3 2.3"/>
<path d="M241.0,619.0 L234.5,622.3 L234.5,615.7 Z" fill="#000"/>
<path d="M99.4,646.0 L118.0,633.2" fill="none" stroke="#444" stroke-width="0.7" stroke-dasharray="1.2 1.2"/>
<path d="M118.0,633.2 L116.8,636.0 L115.0,633.3 Z" fill="#444"/>
<g transform="translate(78.1,649.9) scale(0.98)">
<path d="M3.7,0 H26.3 V10.5 Q26.3,14 23,14 H20.5 Q17.2,12.5 16.6,7.4 H3.7 A3.7,3.7 0 0 1 3.7,0 Z" fill="#c0103a"/>
</g>
<text x="75.3" y="666.8" font-size="8.5" text-anchor="middle" fill="#2e2e2e" textLength="37.6" lengthAdjust="spacingAndGlyphs" stroke="#2e2e2e" stroke-width="0.30">Co-SMAD</text>
<text x="311.0" y="534.5" font-size="8.2" text-anchor="middle" font-weight="bold" fill="#222" textLength="40" lengthAdjust="spacingAndGlyphs">Rp-8-CPT-</text>
<text x="311.1" y="545.4" font-size="8.2" text-anchor="middle" font-weight="bold" fill="#222" textLength="28.3" lengthAdjust="spacingAndGlyphs">cAMPS</text>
<g transform="translate(338.8,536.3)">
<path d="M-4.2,-2.6 H4.2 Q4,1 2.2,2.4 Q0,3.6 -2.2,2.4 Q-4,1 -4.2,-2.6 Z" fill="#2bbde6"/>
</g>
<line x1="338.8" y1="542.9" x2="338.8" y2="571.6" stroke="#000" stroke-width="2"/>
<path d="M338.8,574.1 L338.8,583.0" fill="none" stroke="#000" stroke-width="2" stroke-dasharray="2 2.2"/>
<path d="M338.8,588.0 L335.8,582.5 L341.8,582.5 Z" fill="#000"/>
<g transform="translate(237.5,576.8)">
<path d="M0,1.2 Q0,0 1.2,0 H2.7 A1.4,1.4 0 0 0 5.5,0 H8.6 A1.4,1.4 0 0 0 11.4,0 H14.5 A1.4,1.4 0 0 0 17.3,0 H18.8 Q20,0 20,1.2 V14.6 L10,18.2 L0,14.6 Z" fill="#f9b320"/>
<text x="10.0" y="12.2" font-size="8.2" text-anchor="middle" fill="#3a2605" stroke="#3a2605" stroke-width="0.29">R</text>
</g>
<g transform="translate(257.5,576.8)">
<path d="M0,1.2 Q0,0 1.2,0 H2.7 A1.4,1.4 0 0 0 5.5,0 H8.6 A1.4,1.4 0 0 0 11.4,0 H14.5 A1.4,1.4 0 0 0 17.3,0 H18.8 Q20,0 20,1.2 V14.6 L10,18.2 L0,14.6 Z" fill="#f9b320"/>
<text x="10.0" y="12.2" font-size="8.2" text-anchor="middle" fill="#3a2605" stroke="#3a2605" stroke-width="0.29">R</text>
</g>
<g transform="translate(237.5,592.6)">
<path d="M0,10 V5 Q0,0.4 4.6,0.2 Q7.8,0.1 9.0,2.4 L10,4.2 L11.0,2.4 Q12.2,0.1 15.4,0.2 Q20,0.4 20,5 V10 Z" fill="#ea1f90" stroke="#c8167a" stroke-width="0.45"/>
<text x="10.0" y="8.7" font-size="7.6" text-anchor="middle" fill="#74063f" stroke="#74063f" stroke-width="0.27">C</text>
</g>
<g transform="translate(257.5,592.6)">
<path d="M0,10 V5 Q0,0.4 4.6,0.2 Q7.8,0.1 9.0,2.4 L10,4.2 L11.0,2.4 Q12.2,0.1 15.4,0.2 Q20,0.4 20,5 V10 Z" fill="#ea1f90" stroke="#c8167a" stroke-width="0.45"/>
<text x="10.0" y="8.7" font-size="7.6" text-anchor="middle" fill="#74063f" stroke="#74063f" stroke-width="0.27">C</text>
</g>
<text x="295.0" y="586.5" font-size="8.2" text-anchor="middle" fill="#2e2e2e" textLength="29" lengthAdjust="spacingAndGlyphs" stroke="#2e2e2e" stroke-width="0.29">Inactive</text>
<text x="295.0" y="597.1" font-size="8.2" text-anchor="middle" fill="#2e2e2e" textLength="15" lengthAdjust="spacingAndGlyphs" stroke="#2e2e2e" stroke-width="0.29">PKA</text>
<g transform="translate(326.8,584.4)">
<path d="M-4.2,-2.6 H4.2 Q4,1 2.2,2.4 Q0,3.6 -2.2,2.4 Q-4,1 -4.2,-2.6 Z" fill="#2bbde6"/>
</g>
<g transform="translate(334.0,591.8)">
<path d="M-4.2,-2.6 H4.2 Q4,1 2.2,2.4 Q0,3.6 -2.2,2.4 Q-4,1 -4.2,-2.6 Z" fill="#2bbde6"/>
</g>
<g transform="translate(343.3,597.3)">
<path d="M-4.2,-2.6 H4.2 Q4,1 2.2,2.4 Q0,3.6 -2.2,2.4 Q-4,1 -4.2,-2.6 Z" fill="#2bbde6"/>
</g>
<g transform="translate(334.0,602.0)">
<path d="M-4.2,-2.6 H4.2 Q4,1 2.2,2.4 Q0,3.6 -2.2,2.4 Q-4,1 -4.2,-2.6 Z" fill="#2bbde6"/>
</g>
<g transform="translate(342.9,604.9)">
<path d="M-4.2,-2.6 H4.2 Q4,1 2.2,2.4 Q0,3.6 -2.2,2.4 Q-4,1 -4.2,-2.6 Z" fill="#2bbde6"/>
</g>
<line x1="326.8" y1="595.3" x2="285.2" y2="615.6" stroke="#9b1c1c" stroke-width="1.9"/>
<line x1="283.0" y1="611.1" x2="287.4" y2="620.1" stroke="#9b1c1c" stroke-width="2.3"/>
<text x="250.8" y="623.2" font-size="13" text-anchor="middle" fill="#d0112f" stroke="#d0112f" stroke-width="0.46">?</text>
<path d="M257.0,609.7 L257.0,621.4" fill="none" stroke="#1f6a2b" stroke-width="2.0" stroke-linejoin="round"/>
<path d="M257.0,624.2 L254.7,620.7 L259.3,620.7 Z" fill="#1f6a2b"/>
<rect x="263.1" y="611.1" width="10.7" height="10.3" rx="2" fill="#fff" stroke="#3a3a3a" stroke-width="0.9"/>
<text x="268.5" y="618.9" font-size="7.6" text-anchor="middle" font-weight="bold" fill="#111">d</text>
<ellipse cx="242.3" cy="637.8" rx="14" ry="11.5" fill="url(#gy)" style="mix-blend-mode:multiply"/>
<g transform="translate(232.3,632.3)">
<path d="M0,10 V5 Q0,0.4 4.6,0.2 Q7.8,0.1 9.0,2.4 L10,4.2 L11.0,2.4 Q12.2,0.1 15.4,0.2 Q20,0.4 20,5 V10 Z" fill="#ea1f90" stroke="#c8167a" stroke-width="0.45"/>
<text x="10.0" y="8.7" font-size="7.6" text-anchor="middle" fill="#74063f" stroke="#74063f" stroke-width="0.27">C</text>
</g>
<ellipse cx="272.1" cy="636.7" rx="14" ry="11.5" fill="url(#gy)" style="mix-blend-mode:multiply"/>
<g transform="translate(262.1,631.2)">
<path d="M0,10 V5 Q0,0.4 4.6,0.2 Q7.8,0.1 9.0,2.4 L10,4.2 L11.0,2.4 Q12.2,0.1 15.4,0.2 Q20,0.4 20,5 V10 Z" fill="#ea1f90" stroke="#c8167a" stroke-width="0.45"/>
<text x="10.0" y="8.7" font-size="7.6" text-anchor="middle" fill="#74063f" stroke="#74063f" stroke-width="0.27">C</text>
</g>
<text x="316.6" y="635.8" font-size="8.2" text-anchor="middle" fill="#2e2e2e" textLength="48" lengthAdjust="spacingAndGlyphs" stroke="#2e2e2e" stroke-width="0.29">Activate PKA</text>
<text x="316.6" y="646.0" font-size="8.2" text-anchor="middle" fill="#2e2e2e" textLength="67" lengthAdjust="spacingAndGlyphs" stroke="#2e2e2e" stroke-width="0.29">catalytic subunits</text>
<path d="M257.8,645.8 L257.8,652.3 Q257.8,655.3 260.8,655.3 L322.9,655.3 Q325.9,655.3 325.9,658.3 L325.9,679.8" fill="none" stroke="#1f6a2b" stroke-width="2.4" stroke-linejoin="round"/>
<path d="M325.9,683.2 L323.1,679.0 L328.7,679.0 Z" fill="#1f6a2b"/>
<ellipse cx="325.9" cy="694.4" rx="14" ry="11.5" fill="url(#gy)" style="mix-blend-mode:multiply"/>
<g transform="translate(315.9,688.9)">
<path d="M0,10 V5 Q0,0.4 4.6,0.2 Q7.8,0.1 9.0,2.4 L10,4.2 L11.0,2.4 Q12.2,0.1 15.4,0.2 Q20,0.4 20,5 V10 Z" fill="#ea1f90" stroke="#c8167a" stroke-width="0.45"/>
<text x="10.0" y="8.7" font-size="7.6" text-anchor="middle" fill="#74063f" stroke="#74063f" stroke-width="0.27">C</text>
</g>
<rect x="345.5" y="689.5" width="11.1" height="10.3" rx="2" fill="#fff" stroke="#3a3a3a" stroke-width="0.9"/>
<text x="351.1" y="697.3" font-size="7.6" text-anchor="middle" font-weight="bold" fill="#111">e</text>
<rect x="245.0" y="677.4" width="25.3" height="9.6" rx="4.8" fill="#f06a12"/>
<circle cx="261.6" cy="676.3" r="2.4" fill="#f5b01e" stroke="#c98310" stroke-width="0.4"/>
<text x="261.6" y="677.4" font-size="3.2" text-anchor="middle" font-weight="bold" fill="#5a3000">P</text>
<path d="M249.8,705.2 H261.3 Q263.3,708.2 265.3,705.2 H265.5 A4.8,4.8 0 0 1 265.5,714.8 H249.8 A4.8,4.8 0 0 1 249.8,705.2 Z" fill="#f06a12"/>
<text x="256.5" y="704.4" font-size="8.5" text-anchor="middle" fill="#2e2e2e" textLength="19" lengthAdjust="spacingAndGlyphs" stroke="#2e2e2e" stroke-width="0.30">CREB</text>
<path d="M293.3,682.8 Q283.2,684.8 283.2,696.8 Q283.2,708.9 292.3,710.9" fill="none" stroke="#1d4f80" stroke-width="2"/>
<path d="M275.2,684.8 Q283.2,685.8 283.2,696.8 Q283.2,708.9 273.2,710.4" fill="none" stroke="#1d4f80" stroke-width="2"/>
<path d="M273.2,682.8 l5,-0.5 l-2.4,4.2 Z" fill="#1d4f80"/>
<path d="M294.3,712.4 l-5,0.5 l2.4,-4.2 Z" fill="#1d4f80"/>
<text x="301.0" y="687.1" font-size="8.5" text-anchor="middle" fill="#2e2e2e" textLength="14.5" lengthAdjust="spacingAndGlyphs" stroke="#2e2e2e" stroke-width="0.30">ATP</text>
<text x="300.0" y="715.5" font-size="8.5" text-anchor="middle" fill="#2e2e2e" textLength="15" lengthAdjust="spacingAndGlyphs" stroke="#2e2e2e" stroke-width="0.30">ADP</text>
<path d="M237.1,685.6 L176.3,685.6" fill="none" stroke="#1f6a2b" stroke-width="2.4" stroke-linejoin="round"/>
<path d="M172.9,685.6 L177.1,682.8 L177.1,688.4 Z" fill="#1f6a2b"/>
<rect x="138.4" y="686.0" width="25.3" height="9.6" rx="4.8" fill="#f06a12"/>
<circle cx="155.2" cy="684.7" r="2.4" fill="#f5b01e" stroke="#c98310" stroke-width="0.4"/>
<text x="155.2" y="685.8" font-size="3.2" text-anchor="middle" font-weight="bold" fill="#5a3000">P</text>
<rect x="125.3" y="694.7" width="10.2" height="10.5" rx="2" fill="#fff" stroke="#3a3a3a" stroke-width="0.9"/>
<text x="130.4" y="702.6" font-size="7.6" text-anchor="middle" font-weight="bold" fill="#111">f</text>
<line x1="146.4" y1="707.4" x2="150.0" y2="714.9" stroke="#6cd87a" stroke-width="1.5"/>
<line x1="138.4" y1="714.9" x2="142.4" y2="707.4" stroke="#1d6a2a" stroke-width="1.8"/>
<line x1="142.4" y1="714.9" x2="146.4" y2="707.4" stroke="#1d6a2a" stroke-width="1.8"/>
<line x1="157.8" y1="707.4" x2="161.4" y2="714.9" stroke="#6cd87a" stroke-width="1.5"/>
<line x1="149.8" y1="714.9" x2="153.8" y2="707.4" stroke="#1d6a2a" stroke-width="1.8"/>
<line x1="153.8" y1="714.9" x2="157.8" y2="707.4" stroke="#1d6a2a" stroke-width="1.8"/>
<line x1="169.2" y1="707.4" x2="172.8" y2="714.9" stroke="#6cd87a" stroke-width="1.5"/>
<line x1="161.2" y1="714.9" x2="165.2" y2="707.4" stroke="#1d6a2a" stroke-width="1.8"/>
<line x1="165.2" y1="714.9" x2="169.2" y2="707.4" stroke="#1d6a2a" stroke-width="1.8"/>
<line x1="180.6" y1="707.4" x2="184.2" y2="714.9" stroke="#6cd87a" stroke-width="1.5"/>
<line x1="172.6" y1="714.9" x2="176.6" y2="707.4" stroke="#1d6a2a" stroke-width="1.8"/>
<line x1="176.6" y1="714.9" x2="180.6" y2="707.4" stroke="#1d6a2a" stroke-width="1.8"/>
<line x1="192.0" y1="707.4" x2="195.6" y2="714.9" stroke="#8cc0e8" stroke-width="1.5"/>
<line x1="184.0" y1="714.9" x2="188.0" y2="707.4" stroke="#1f64a0" stroke-width="1.8"/>
<line x1="188.0" y1="714.9" x2="192.0" y2="707.4" stroke="#1f64a0" stroke-width="1.8"/>
<line x1="203.4" y1="707.4" x2="207.0" y2="714.9" stroke="#8cc0e8" stroke-width="1.5"/>
<line x1="195.4" y1="714.9" x2="199.4" y2="707.4" stroke="#1f64a0" stroke-width="1.8"/>
<line x1="199.4" y1="714.9" x2="203.4" y2="707.4" stroke="#1f64a0" stroke-width="1.8"/>
<line x1="214.8" y1="707.4" x2="218.4" y2="714.9" stroke="#8cc0e8" stroke-width="1.5"/>
<line x1="206.8" y1="714.9" x2="210.8" y2="707.4" stroke="#1f64a0" stroke-width="1.8"/>
<line x1="210.8" y1="714.9" x2="214.8" y2="707.4" stroke="#1f64a0" stroke-width="1.8"/>
<line x1="226.2" y1="707.4" x2="229.8" y2="714.9" stroke="#8cc0e8" stroke-width="1.5"/>
<line x1="218.2" y1="714.9" x2="222.2" y2="707.4" stroke="#1f64a0" stroke-width="1.8"/>
<line x1="222.2" y1="714.9" x2="226.2" y2="707.4" stroke="#1f64a0" stroke-width="1.8"/>
<line x1="229.6" y1="714.9" x2="233.6" y2="707.4" stroke="#1f64a0" stroke-width="1.8"/>
<path d="M146.2,696.6 H165.2 L160.8,705.3 H141.8 Z" fill="#22c55a"/>
<text x="152.2" y="702.8" font-size="4.6" text-anchor="middle" font-weight="bold" fill="#0c4a1c">CRE</text>
<line x1="162.2" y1="701.0" x2="168.2" y2="701.0" stroke="#6a1050" stroke-width="1"/>
<path d="M168.7,696.6 H178.7 A4.5,4.5 0 0 1 178.7,705.6 H168.7 A1,1 0 0 1 167.7,704.6 V697.6 A1,1 0 0 1 168.7,696.6 Z" fill="#f7a21b"/>
<text x="175.2" y="702.7" font-size="4.4" text-anchor="middle" font-weight="bold" fill="#5a2a00">Luc</text>
<path d="M189.2,706.2 V701.2 Q189.2,699.2 191.2,699.2 H205.4" fill="none" stroke="#e3262b" stroke-width="1.3"/>
<path d="M208.4,699.2 L204.4,696.8 L204.4,701.6 Z" fill="#e3262b"/>
<text x="33.4" y="683.5" font-size="6.0" text-anchor="middle" fill="#2a2a2a" textLength="36" lengthAdjust="spacingAndGlyphs" stroke="#2a2a2a" stroke-width="0.18">CYTOPLASM</text>
<text x="33.2" y="717.3" font-size="6.0" text-anchor="middle" fill="#2a2a2a" textLength="29" lengthAdjust="spacingAndGlyphs" stroke="#2a2a2a" stroke-width="0.18">NUCLEUS</text>
<text x="373.9" y="511.4" font-size="24" text-anchor="start" font-weight="bold" fill="#000" textLength="12.88" lengthAdjust="spacingAndGlyphs">F</text>
<text x="405.5" y="531.9" font-size="8.5" text-anchor="middle" font-weight="bold" fill="#111" textLength="28" lengthAdjust="spacingAndGlyphs">sbAmh</text>
<g transform="translate(389.2,535.6) scale(0.9,1.0)">
<path d="M1.5,0 H11 Q14.6,0.3 14.6,4 V8.2 L9.2,12.6 V31.5 L11,33.4 V40.5 L6.6,37.4 L2.1,40.5 V33.4 L3.9,31.5 V12.6 L0,8.8 V1.5 Q0,0 1.5,0 Z" fill="#5bd35e"/>
</g>
<g transform="translate(405.1,536.6) scale(1.14,1.0)">
<path d="M4.4,0 H14 Q16,0 16,2 V10 Q16,12 14,12 H9.8 V34 H6.1 V12 H2 Q0,12 0,10 V5 A3.3,3.3 0 0 0 4.4,0 Z" fill="#f3a6de" stroke="#d98ac6" stroke-width="0.5"/>
</g>
<path d="M405.8,574.5 Q406.3,572 408.5,572 H421 Q423.4,572 423.4,574.5 V580 Q423.4,584.5 419,584.5 H413 Z" fill="#f3a6de" stroke="#d98ac6" stroke-width="0.5"/>
<g transform="translate(397.2,533.6) rotate(10) scale(1.05)">
<path d="M0.4,5.2 Q0,4.4 0.8,3.7 L5.2,0.6 Q6.5,-0.3 7.8,0.6 L12.2,3.7 Q13,4.4 12.6,5.4 L11.8,7.2 Q11.2,8.1 10.2,7.5 L6.5,4.9 L2.8,7.5 Q1.8,8.1 1.2,7.2 Z" fill="#1c5a72"/>
</g>
<g transform="translate(400.6,581.8) rotate(-30) scale(0.92)">
<path d="M0,0 H9 V3 H11 V9 H9 V11 H0 Z" fill="#e81e6e"/>
</g>
<circle cx="421.0" cy="580.1" r="2.6" fill="#f5b01e" stroke="#c98310" stroke-width="0.4"/>
<text x="421.0" y="581.2" font-size="3.2" text-anchor="middle" font-weight="bold" fill="#5a3000">P</text>
<rect x="375.0" y="574.0" width="9.9" height="10.5" rx="2" fill="#fff" stroke="#3a3a3a" stroke-width="0.9"/>
<text x="379.9" y="582.2" font-size="8.3" text-anchor="middle" font-weight="bold" fill="#111">1</text>
<text x="467.8" y="530.5" font-size="8.2" text-anchor="middle" font-weight="bold" fill="#111" textLength="16.8" lengthAdjust="spacingAndGlyphs">LDN</text>
<ellipse cx="468.0" cy="540.6" rx="9" ry="10.5" fill="url(#gy)" style="mix-blend-mode:multiply"/>
<g transform="translate(464.3,534.1) scale(0.95)">
<path d="M1.5,0 H5 Q6.5,0 6.5,1.5 V4 Q8.5,4.5 8.5,7 Q8.5,9.5 6.5,10 V12.5 Q6.5,14 5,14 H1.5 Q0,14 0,12.5 V1.5 Q0,0 1.5,0 Z" fill="#e81e6e"/>
</g>
<line x1="467.4" y1="549" x2="467.4" y2="572" stroke="#000" stroke-width="2"/>
<path d="M467.4,574.5 L467.4,593.5" fill="none" stroke="#000" stroke-width="2" stroke-dasharray="2 2.2"/>
<path d="M467.4,598.5 L464.4,593.0 L470.4,593.0 Z" fill="#000"/>
<path d="M459.3,602.7 H474.1 V605.9 H471.6 V608.9 Q471.6,610.4 470.1,610.4 H463.3 Q461.8,610.4 461.8,608.9 V605.9 H459.3 Z" fill="#e81e6e"/>
<text x="467.4" y="620.1" font-size="8.0" text-anchor="middle" fill="#2e2e2e" textLength="16" lengthAdjust="spacingAndGlyphs" stroke="#2e2e2e" stroke-width="0.28">LDN</text>
<path d="M451.1,608.1 L414.7,608.1 L414.7,595.0" fill="none" stroke="#000" stroke-width="2.2" stroke-dasharray="2.2 2.3"/>
<path d="M414.7,589.0 L417.9,595.0 L411.5,595.0 Z" fill="#000"/>
<line x1="512.7" y1="616.6" x2="582.2" y2="616.6" stroke="#9b1c1c" stroke-width="1.9"/>
<line x1="582.2" y1="621.9" x2="582.2" y2="611.3" stroke="#9b1c1c" stroke-width="2.3"/>
<g transform="translate(592.9,577.4)">
<path d="M0,1.2 Q0,0 1.2,0 H2.7 A1.4,1.4 0 0 0 5.5,0 H8.6 A1.4,1.4 0 0 0 11.4,0 H14.5 A1.4,1.4 0 0 0 17.3,0 H18.8 Q20,0 20,1.2 V14.6 L10,18.2 L0,14.6 Z" fill="#f9b320"/>
<text x="10.0" y="12.2" font-size="8.2" text-anchor="middle" fill="#3a2605" stroke="#3a2605" stroke-width="0.29">R</text>
</g>
<g transform="translate(613.7,577.4)">
<path d="M0,1.2 Q0,0 1.2,0 H2.7 A1.4,1.4 0 0 0 5.5,0 H8.6 A1.4,1.4 0 0 0 11.4,0 H14.5 A1.4,1.4 0 0 0 17.3,0 H18.8 Q20,0 20,1.2 V14.6 L10,18.2 L0,14.6 Z" fill="#f9b320"/>
<text x="10.0" y="12.2" font-size="8.2" text-anchor="middle" fill="#3a2605" stroke="#3a2605" stroke-width="0.29">R</text>
</g>
<g transform="translate(592.9,593.2)">
<path d="M0,10 V5 Q0,0.4 4.6,0.2 Q7.8,0.1 9.0,2.4 L10,4.2 L11.0,2.4 Q12.2,0.1 15.4,0.2 Q20,0.4 20,5 V10 Z" fill="#ea1f90" stroke="#c8167a" stroke-width="0.45"/>
<text x="10.0" y="8.7" font-size="7.6" text-anchor="middle" fill="#74063f" stroke="#74063f" stroke-width="0.27">C</text>
</g>
<g transform="translate(613.7,593.2)">
<path d="M0,10 V5 Q0,0.4 4.6,0.2 Q7.8,0.1 9.0,2.4 L10,4.2 L11.0,2.4 Q12.2,0.1 15.4,0.2 Q20,0.4 20,5 V10 Z" fill="#ea1f90" stroke="#c8167a" stroke-width="0.45"/>
<text x="10.0" y="8.7" font-size="7.6" text-anchor="middle" fill="#74063f" stroke="#74063f" stroke-width="0.27">C</text>
</g>
<text x="655.2" y="588.5" font-size="8.2" text-anchor="middle" fill="#2e2e2e" textLength="29" lengthAdjust="spacingAndGlyphs" stroke="#2e2e2e" stroke-width="0.29">Inactive</text>
<text x="655.2" y="599.9" font-size="8.2" text-anchor="middle" fill="#2e2e2e" textLength="15" lengthAdjust="spacingAndGlyphs" stroke="#2e2e2e" stroke-width="0.29">PKA</text>
<path d="M613.2,609.4 L613.2,621.2" fill="none" stroke="#1f6a2b" stroke-width="2.0" stroke-linejoin="round"/>
<path d="M613.2,624.0 L610.9,620.5 L615.5,620.5 Z" fill="#1f6a2b"/>
<text x="619.9" y="622.8" font-size="13" text-anchor="middle" fill="#d0112f" stroke="#d0112f" stroke-width="0.46">?</text>
<rect x="626.7" y="611.2" width="10.0" height="10.0" rx="2" fill="#fff" stroke="#3a3a3a" stroke-width="0.9"/>
<text x="631.7" y="618.9" font-size="7.6" text-anchor="middle" font-weight="bold" fill="#111">d</text>
<ellipse cx="597.5" cy="636.3" rx="14" ry="11.5" fill="url(#gy)" style="mix-blend-mode:multiply"/>
<g transform="translate(587.5,630.8)">
<path d="M0,10 V5 Q0,0.4 4.6,0.2 Q7.8,0.1 9.0,2.4 L10,4.2 L11.0,2.4 Q12.2,0.1 15.4,0.2 Q20,0.4 20,5 V10 Z" fill="#ea1f90" stroke="#c8167a" stroke-width="0.45"/>
<text x="10.0" y="8.7" font-size="7.6" text-anchor="middle" fill="#74063f" stroke="#74063f" stroke-width="0.27">C</text>
</g>
<ellipse cx="626.7" cy="636.3" rx="14" ry="11.5" fill="url(#gy)" style="mix-blend-mode:multiply"/>
<g transform="translate(616.7,630.8)">
<path d="M0,10 V5 Q0,0.4 4.6,0.2 Q7.8,0.1 9.0,2.4 L10,4.2 L11.0,2.4 Q12.2,0.1 15.4,0.2 Q20,0.4 20,5 V10 Z" fill="#ea1f90" stroke="#c8167a" stroke-width="0.45"/>
<text x="10.0" y="8.7" font-size="7.6" text-anchor="middle" fill="#74063f" stroke="#74063f" stroke-width="0.27">C</text>
</g>
<line x1="593.9" y1="623.7" x2="629.5" y2="648.6" stroke="#c8201e" stroke-width="3.3"/>
<line x1="629.5" y1="623.7" x2="593.9" y2="648.6" stroke="#c8201e" stroke-width="3.3"/>
<text x="673.0" y="634.8" font-size="8.2" text-anchor="middle" fill="#2e2e2e" textLength="48" lengthAdjust="spacingAndGlyphs" stroke="#2e2e2e" stroke-width="0.29">Activate PKA</text>
<text x="673.0" y="646.2" font-size="8.2" text-anchor="middle" fill="#2e2e2e" textLength="67" lengthAdjust="spacingAndGlyphs" stroke="#2e2e2e" stroke-width="0.29">catalytic subunits</text>
<line x1="402.5" y1="699.6" x2="406.1" y2="706.7" stroke="#6cd87a" stroke-width="1.5"/>
<line x1="394.5" y1="706.7" x2="398.5" y2="699.6" stroke="#1d6a2a" stroke-width="1.8"/>
<line x1="398.5" y1="706.7" x2="402.5" y2="699.6" stroke="#1d6a2a" stroke-width="1.8"/>
<line x1="413.9" y1="699.6" x2="417.5" y2="706.7" stroke="#6cd87a" stroke-width="1.5"/>
<line x1="405.9" y1="706.7" x2="409.9" y2="699.6" stroke="#1d6a2a" stroke-width="1.8"/>
<line x1="409.9" y1="706.7" x2="413.9" y2="699.6" stroke="#1d6a2a" stroke-width="1.8"/>
<line x1="425.3" y1="699.6" x2="428.9" y2="706.7" stroke="#6cd87a" stroke-width="1.5"/>
<line x1="417.3" y1="706.7" x2="421.3" y2="699.6" stroke="#1d6a2a" stroke-width="1.8"/>
<line x1="421.3" y1="706.7" x2="425.3" y2="699.6" stroke="#1d6a2a" stroke-width="1.8"/>
<line x1="436.7" y1="699.6" x2="440.3" y2="706.7" stroke="#8cc0e8" stroke-width="1.5"/>
<line x1="428.7" y1="706.7" x2="432.7" y2="699.6" stroke="#1f64a0" stroke-width="1.8"/>
<line x1="432.7" y1="706.7" x2="436.7" y2="699.6" stroke="#1f64a0" stroke-width="1.8"/>
<line x1="448.1" y1="699.6" x2="451.7" y2="706.7" stroke="#8cc0e8" stroke-width="1.5"/>
<line x1="440.1" y1="706.7" x2="444.1" y2="699.6" stroke="#1f64a0" stroke-width="1.8"/>
<line x1="444.1" y1="706.7" x2="448.1" y2="699.6" stroke="#1f64a0" stroke-width="1.8"/>
<line x1="459.5" y1="699.6" x2="463.1" y2="706.7" stroke="#8cc0e8" stroke-width="1.5"/>
<line x1="451.5" y1="706.7" x2="455.5" y2="699.6" stroke="#1f64a0" stroke-width="1.8"/>
<line x1="455.5" y1="706.7" x2="459.5" y2="699.6" stroke="#1f64a0" stroke-width="1.8"/>
<line x1="470.9" y1="699.6" x2="474.5" y2="706.7" stroke="#8cc0e8" stroke-width="1.5"/>
<line x1="462.9" y1="706.7" x2="466.9" y2="699.6" stroke="#1f64a0" stroke-width="1.8"/>
<line x1="466.9" y1="706.7" x2="470.9" y2="699.6" stroke="#1f64a0" stroke-width="1.8"/>
<line x1="482.3" y1="699.6" x2="485.9" y2="706.7" stroke="#8cc0e8" stroke-width="1.5"/>
<line x1="474.3" y1="706.7" x2="478.3" y2="699.6" stroke="#1f64a0" stroke-width="1.8"/>
<line x1="478.3" y1="706.7" x2="482.3" y2="699.6" stroke="#1f64a0" stroke-width="1.8"/>
<line x1="485.7" y1="706.7" x2="489.7" y2="699.6" stroke="#1f64a0" stroke-width="1.8"/>
<path d="M402.8,688.6 H421.8 L417.4,697.3 H398.4 Z" fill="#22c55a"/>
<text x="408.8" y="694.8" font-size="4.6" text-anchor="middle" font-weight="bold" fill="#0c4a1c">CRE</text>
<line x1="418.8" y1="693.0" x2="424.8" y2="693.0" stroke="#6a1050" stroke-width="1"/>
<path d="M425.3,688.6 H435.3 A4.5,4.5 0 0 1 435.3,697.6 H425.3 A1,1 0 0 1 424.3,696.6 V689.6 A1,1 0 0 1 425.3,688.6 Z" fill="#f7a21b"/>
<text x="431.8" y="694.7" font-size="4.4" text-anchor="middle" font-weight="bold" fill="#5a2a00">Luc</text>
<line x1="404.5" y1="680.2" x2="437.7" y2="707.8" stroke="#c8201e" stroke-width="3.8"/>
<line x1="437.7" y1="680.2" x2="404.5" y2="707.8" stroke="#c8201e" stroke-width="3.8"/>
<rect x="364.3" y="56.1" width="2.3" height="167.6" fill="#000"/>
<rect x="364.3" y="301.8" width="2.3" height="168.1" fill="#000"/>
<rect x="364.3" y="552.3" width="2.3" height="168.5" fill="#000"/>
</svg></body></html>
